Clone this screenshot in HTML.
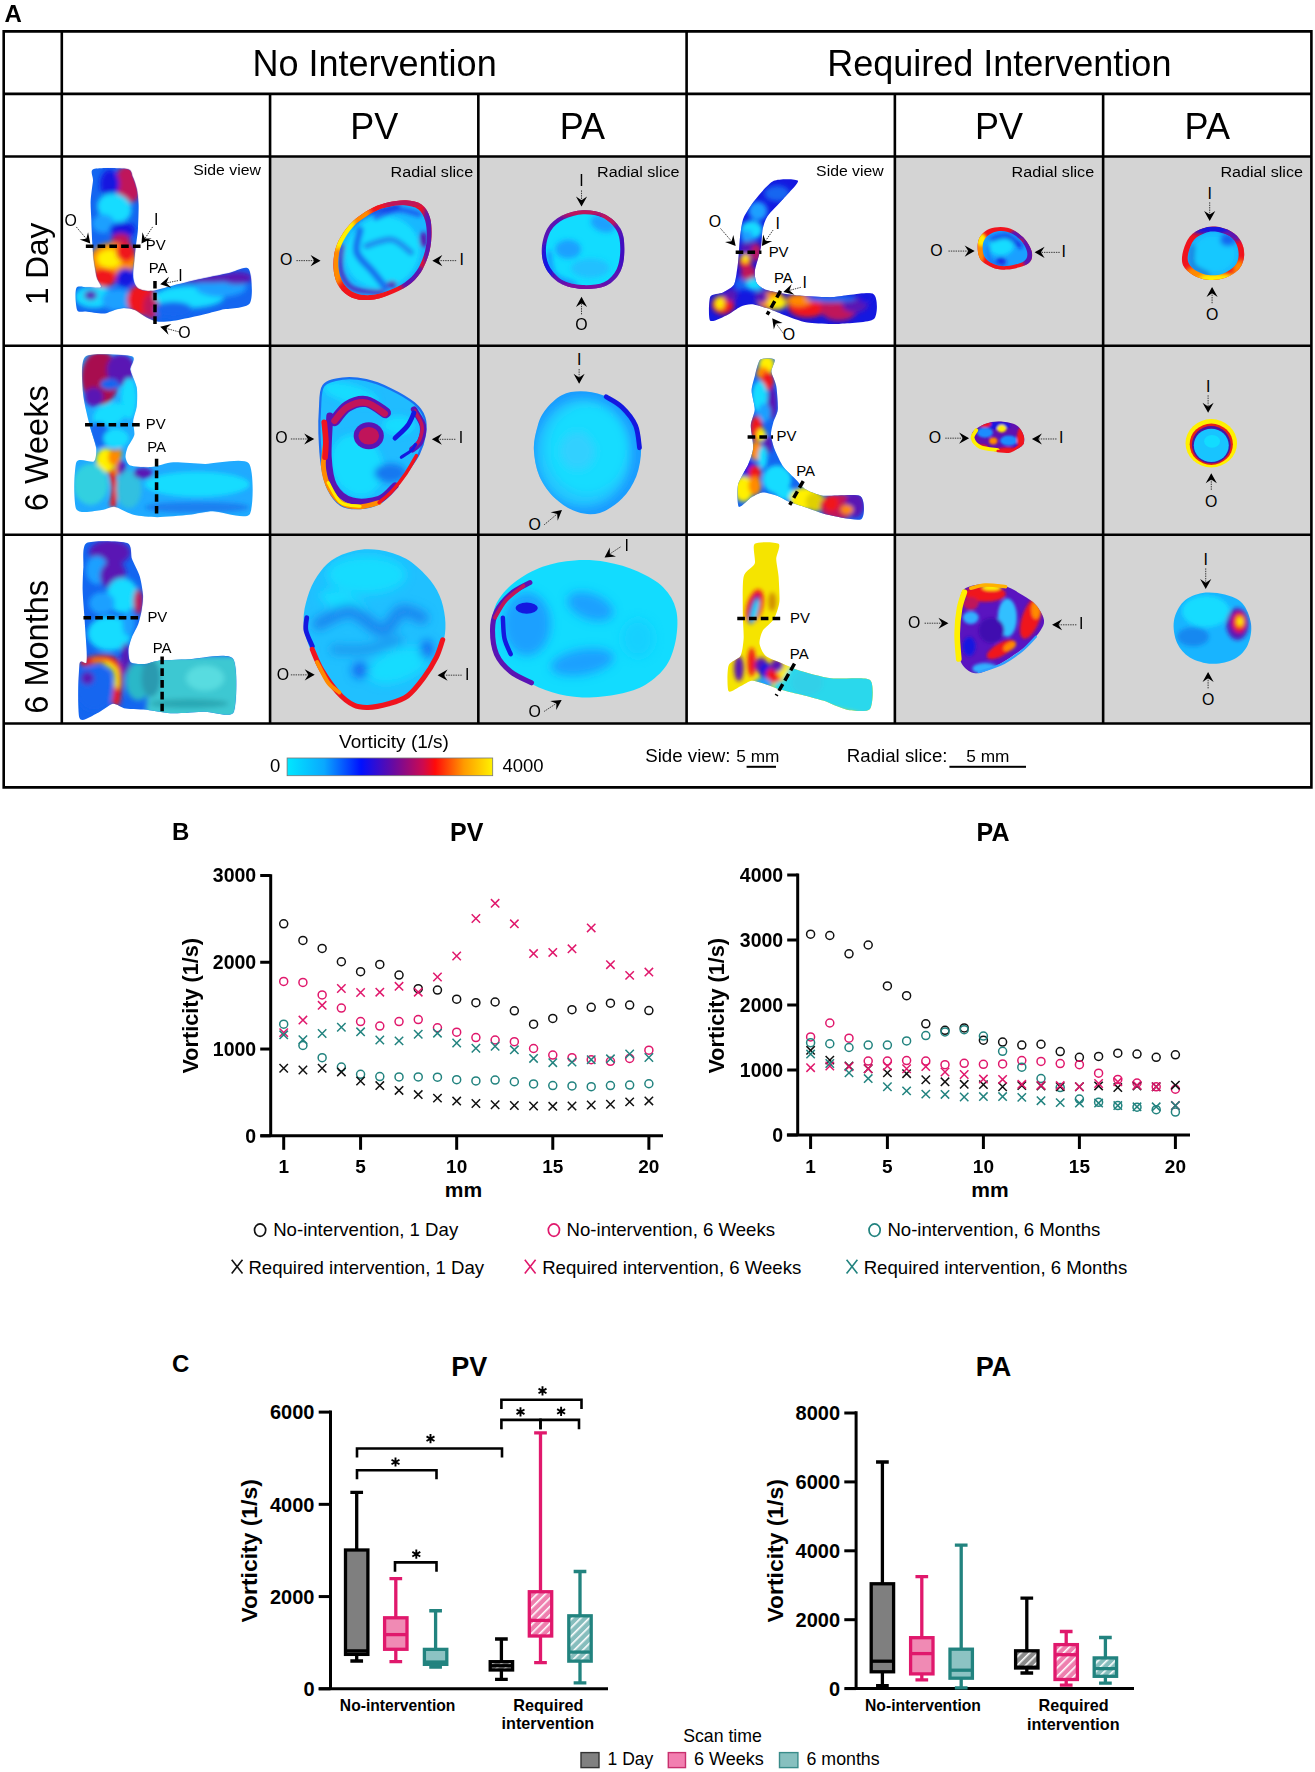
<!DOCTYPE html><html><head><meta charset="utf-8"><style>html,body{margin:0;padding:0;background:#fff;width:1315px;height:1772px;overflow:hidden}svg{display:block}text{font-family:"Liberation Sans",sans-serif}</style></head><body>
<svg width="1315" height="1772" viewBox="0 0 1315 1772">
<defs>
<linearGradient id="cbar" x1="0" x2="1" y1="0" y2="0"><stop offset="0" stop-color="#00e8ff"/><stop offset="0.18" stop-color="#0aa8ff"/><stop offset="0.36" stop-color="#0010ff"/><stop offset="0.52" stop-color="#6a0aa0"/><stop offset="0.66" stop-color="#cc0a50"/><stop offset="0.72" stop-color="#ff0a0a"/><stop offset="0.86" stop-color="#ff9a00"/><stop offset="1" stop-color="#fff200"/></linearGradient>
<pattern id="hatchG" patternUnits="userSpaceOnUse" width="6" height="6" patternTransform="rotate(45)"><rect width="6" height="6" fill="#8a8a8a"/><rect x="0" y="0" width="1.6" height="6" fill="#fff"/></pattern>
<pattern id="hatchP" patternUnits="userSpaceOnUse" width="6" height="6" patternTransform="rotate(45)"><rect width="6" height="6" fill="#ee7fae"/><rect x="0" y="0" width="1.6" height="6" fill="#fff"/></pattern>
<pattern id="hatchT" patternUnits="userSpaceOnUse" width="6" height="6" patternTransform="rotate(45)"><rect width="6" height="6" fill="#86bdbd"/><rect x="0" y="0" width="1.6" height="6" fill="#fff"/></pattern>
<filter id="blur2" x="-20%" y="-20%" width="140%" height="140%"><feGaussianBlur stdDeviation="2"/></filter>
<filter id="blur1" x="-20%" y="-20%" width="140%" height="140%"><feGaussianBlur stdDeviation="1"/></filter>
<filter id="blur4" x="-30%" y="-30%" width="160%" height="160%"><feGaussianBlur stdDeviation="4"/></filter>
</defs>
<rect x="270.07" y="156.5" width="208.27" height="567.00" fill="#d4d4d4"/>
<rect x="478.33" y="156.5" width="208.27" height="567.00" fill="#d4d4d4"/>
<rect x="894.87" y="156.5" width="208.27" height="567.00" fill="#d4d4d4"/>
<rect x="1103.13" y="156.5" width="208.27" height="567.00" fill="#d4d4d4"/>
<g id="images"><g transform="translate(62,157) scale(0.15894)">
<clipPath id="cp1"><path d="M200,75C229,65 377,68 410,75C443,82 437,108 445,125C453,142 465,177 470,200C475,223 481,267 482,300C483,333 480,415 478,450C476,485 468,533 465,560C462,587 457,623 455,650C453,677 445,737 448,760C451,783 463,814 478,825C493,836 530,844 560,842C590,840 655,819 700,808C745,797 853,772 900,762C947,752 1013,738 1050,730C1087,722 1157,680 1175,705C1193,730 1205,886 1182,920C1159,954 1044,951 1000,962C956,973 890,991 850,1000C810,1009 734,1025 700,1030C666,1035 622,1039 598,1035C574,1031 538,1012 520,1002C502,992 477,969 460,962C443,955 407,950 390,950C373,950 347,957 330,962C313,967 284,984 260,985C236,986 172,975 150,972C128,969 103,982 95,962C87,942 81,844 90,825C99,806 139,821 160,820C181,819 237,828 245,820C253,812 226,783 220,760C214,737 204,681 200,650C196,619 192,563 190,530C188,497 186,433 185,400C184,367 179,313 180,280C181,247 192,177 195,150C198,123 171,85 200,75Z"/></clipPath>
<filter id="fb2" x="-50%" y="-50%" width="200%" height="200%"><feGaussianBlur stdDeviation="18"/></filter>
<path d="M200,75C229,65 377,68 410,75C443,82 437,108 445,125C453,142 465,177 470,200C475,223 481,267 482,300C483,333 480,415 478,450C476,485 468,533 465,560C462,587 457,623 455,650C453,677 445,737 448,760C451,783 463,814 478,825C493,836 530,844 560,842C590,840 655,819 700,808C745,797 853,772 900,762C947,752 1013,738 1050,730C1087,722 1157,680 1175,705C1193,730 1205,886 1182,920C1159,954 1044,951 1000,962C956,973 890,991 850,1000C810,1009 734,1025 700,1030C666,1035 622,1039 598,1035C574,1031 538,1012 520,1002C502,992 477,969 460,962C443,955 407,950 390,950C373,950 347,957 330,962C313,967 284,984 260,985C236,986 172,975 150,972C128,969 103,982 95,962C87,942 81,844 90,825C99,806 139,821 160,820C181,819 237,828 245,820C253,812 226,783 220,760C214,737 204,681 200,650C196,619 192,563 190,530C188,497 186,433 185,400C184,367 179,313 180,280C181,247 192,177 195,150C198,123 171,85 200,75Z" fill="#1466f0"/>
<g clip-path="url(#cp1)"><g filter="url(#fb2)">
<ellipse cx="420" cy="170" rx="90" ry="120" fill="#c0145a" transform="rotate(0 420 170)" opacity="1"/>
<ellipse cx="300" cy="170" rx="60" ry="90" fill="#1418e0" transform="rotate(0 300 170)" opacity="1"/>
<ellipse cx="330" cy="320" rx="110" ry="90" fill="#12dcff" transform="rotate(20 330 320)" opacity="1"/>
<ellipse cx="260" cy="420" rx="70" ry="60" fill="#1aa0ff" transform="rotate(0 260 420)" opacity="1"/>
<ellipse cx="380" cy="460" rx="80" ry="50" fill="#1418e0" transform="rotate(0 380 460)" opacity="1"/>
<ellipse cx="370" cy="520" rx="60" ry="40" fill="#c0145a" transform="rotate(0 370 520)" opacity="1"/>
<ellipse cx="320" cy="650" rx="150" ry="110" fill="#ff8a00" transform="rotate(0 320 650)" opacity="1"/>
<ellipse cx="300" cy="640" rx="80" ry="60" fill="#fff000" transform="rotate(0 300 640)" opacity="1"/>
<ellipse cx="400" cy="600" rx="60" ry="60" fill="#f0141e" transform="rotate(0 400 600)" opacity="1"/>
<ellipse cx="260" cy="760" rx="80" ry="60" fill="#f0141e" transform="rotate(0 260 760)" opacity="1"/>
<ellipse cx="400" cy="760" rx="60" ry="60" fill="#1418e0" transform="rotate(0 400 760)" opacity="1"/>
<ellipse cx="200" cy="880" rx="120" ry="70" fill="#12dcff" transform="rotate(0 200 880)" opacity="1"/>
<ellipse cx="350" cy="900" rx="100" ry="70" fill="#1aa0ff" transform="rotate(0 350 900)" opacity="1"/>
<ellipse cx="180" cy="870" rx="40" ry="30" fill="#5a14b4" transform="rotate(0 180 870)" opacity="1"/>
<ellipse cx="500" cy="900" rx="90" ry="100" fill="#f0141e" transform="rotate(0 500 900)" opacity="1"/>
<ellipse cx="560" cy="940" rx="50" ry="80" fill="#c0145a" transform="rotate(0 560 940)" opacity="1"/>
<ellipse cx="800" cy="880" rx="220" ry="70" fill="#12dcff" transform="rotate(0 800 880)" opacity="1"/>
<ellipse cx="1000" cy="820" rx="160" ry="60" fill="#1aa0ff" transform="rotate(0 1000 820)" opacity="1"/>
<ellipse cx="900" cy="760" rx="250" ry="30" fill="#5a14b4" transform="rotate(0 900 760)" opacity="1"/>
<ellipse cx="1100" cy="760" rx="100" ry="40" fill="#5a14b4" transform="rotate(0 1100 760)" opacity="1"/>
<ellipse cx="700" cy="960" rx="120" ry="50" fill="#1466f0" transform="rotate(0 700 960)" opacity="1"/>
</g></g>
<path d="M150,562L515,562" stroke="#000" stroke-width="22" stroke-dasharray="48 26" fill="none"/>
<path d="M585,780L585,1065" stroke="#000" stroke-width="22" stroke-dasharray="48 26" fill="none"/>
<text x="590" y="585" font-size="94" text-anchor="middle" fill="#000">PV</text>
<text x="605" y="728" font-size="94" text-anchor="middle" fill="#000">PA</text>
<text x="55" y="435" font-size="100" text-anchor="middle" fill="#000">O</text>
<text x="592" y="425" font-size="100" text-anchor="middle" fill="#000">I</text>
<path d="M90,440L172,537" stroke="#333" stroke-width="6" stroke-dasharray="9 6" fill="none"/>
<path d="M178,545L111,519L153,515L164,474Z" fill="#000"/>
<path d="M570,440L506,537" stroke="#333" stroke-width="6" stroke-dasharray="9 6" fill="none"/>
<path d="M500,545L506,473L522,512L564,512Z" fill="#000"/>
<text x="745" y="780" font-size="100" text-anchor="middle" fill="#000">I</text>
<path d="M730,778L628,798" stroke="#333" stroke-width="6" stroke-dasharray="9 6" fill="none"/>
<path d="M618,800L673,754L657,792L687,822Z" fill="#000"/>
<text x="770" y="1140" font-size="100" text-anchor="middle" fill="#000">O</text>
<path d="M735,1100L628,1071" stroke="#333" stroke-width="6" stroke-dasharray="9 6" fill="none"/>
<path d="M618,1068L688,1051L656,1078L670,1118Z" fill="#000"/>
</g>
<g transform="translate(271,157) scale(0.15894)">
<clipPath id="cp3"><path d="M850,272C885,274 925,282 950,300C975,318 990,347 1000,380C1010,413 1012,460 1010,500C1008,540 1002,582 990,620C978,658 962,698 940,730C918,762 893,787 860,810C827,833 780,855 740,870C700,885 658,898 620,900C582,902 542,898 510,885C478,872 449,848 430,820C411,792 400,757 395,720C390,683 392,637 400,600C408,563 420,533 440,500C460,467 487,430 520,400C553,370 603,339 640,320C677,301 705,293 740,285C775,277 815,270 850,272Z"/></clipPath>
<filter id="fb4" x="-50%" y="-50%" width="200%" height="200%"><feGaussianBlur stdDeviation="14"/></filter>
<path d="M850,272C885,274 925,282 950,300C975,318 990,347 1000,380C1010,413 1012,460 1010,500C1008,540 1002,582 990,620C978,658 962,698 940,730C918,762 893,787 860,810C827,833 780,855 740,870C700,885 658,898 620,900C582,902 542,898 510,885C478,872 449,848 430,820C411,792 400,757 395,720C390,683 392,637 400,600C408,563 420,533 440,500C460,467 487,430 520,400C553,370 603,339 640,320C677,301 705,293 740,285C775,277 815,270 850,272Z" fill="#f0141e"/>
<g clip-path="url(#cp3)"><g filter="url(#fb4)">
<ellipse cx="440" cy="470" rx="80" ry="140" fill="#fff000" transform="rotate(30 440 470)" opacity="1"/>
<ellipse cx="410" cy="690" rx="50" ry="120" fill="#ff8a00" transform="rotate(0 410 690)" opacity="1"/>
<ellipse cx="560" cy="870" rx="170" ry="50" fill="#f0141e" transform="rotate(0 560 870)" opacity="1"/>
<ellipse cx="820" cy="285" rx="150" ry="40" fill="#c0145a" transform="rotate(0 820 285)" opacity="1"/>
<ellipse cx="1000" cy="500" rx="50" ry="220" fill="#5a14b4" transform="rotate(0 1000 500)" opacity="1"/>
<ellipse cx="900" cy="770" rx="90" ry="90" fill="#5a14b4" transform="rotate(0 900 770)" opacity="1"/>
<ellipse cx="560" cy="360" rx="70" ry="60" fill="#ff8a00" transform="rotate(0 560 360)" opacity="1"/>
<ellipse cx="660" cy="310" rx="60" ry="40" fill="#f0141e" transform="rotate(0 660 310)" opacity="1"/>
</g></g>
<clipPath id="cp5"><path d="M836,304C868,306 904,313 926,329C948,345 961,371 970,401C979,431 981,473 980,509C979,545 973,582 962,617C951,652 936,688 916,716C896,744 874,767 844,788C814,809 772,828 736,842C700,856 662,867 628,869C594,871 558,868 530,856C502,844 475,822 458,797C441,772 431,740 426,707C421,674 423,632 430,599C437,566 448,539 466,509C484,479 508,446 538,419C568,392 613,364 646,347C679,330 704,323 736,316C768,309 804,302 836,304Z"/></clipPath>
<filter id="fb6" x="-50%" y="-50%" width="200%" height="200%"><feGaussianBlur stdDeviation="14"/></filter>
<path d="M836,304C868,306 904,313 926,329C948,345 961,371 970,401C979,431 981,473 980,509C979,545 973,582 962,617C951,652 936,688 916,716C896,744 874,767 844,788C814,809 772,828 736,842C700,856 662,867 628,869C594,871 558,868 530,856C502,844 475,822 458,797C441,772 431,740 426,707C421,674 423,632 430,599C437,566 448,539 466,509C484,479 508,446 538,419C568,392 613,364 646,347C679,330 704,323 736,316C768,309 804,302 836,304Z" fill="#18b8ff"/>
<g clip-path="url(#cp5)"><g filter="url(#fb6)">
<ellipse cx="700" cy="600" rx="240" ry="220" fill="#12dcff" transform="rotate(-30 700 600)" opacity="1"/>
<path d="M560,460C557,483 527,557 540,600C553,643 610,683 640,720C670,757 707,803 720,820" stroke="#1470f0" stroke-width="45" fill="none" stroke-linecap="round" opacity="1"/>
<path d="M660,380C683,372 755,333 800,330C845,327 908,355 930,360" stroke="#1a60f0" stroke-width="35" fill="none" stroke-linecap="round" opacity="1"/>
<path d="M600,560C627,553 713,513 760,520C807,527 860,587 880,600" stroke="#1a90f0" stroke-width="40" fill="none" stroke-linecap="round" opacity="1"/>
<ellipse cx="960" cy="520" rx="25" ry="50" fill="#5a14b4" transform="rotate(0 960 520)" opacity="1"/>
<ellipse cx="760" cy="800" rx="30" ry="20" fill="#5a14b4" transform="rotate(0 760 800)" opacity="1"/>
<path d="M450,560C448,587 428,675 440,720C452,765 477,808 520,830C563,852 670,847 700,850" stroke="#5a14b4" stroke-width="26" fill="none" stroke-linecap="round" opacity="1"/>
<path d="M500,430C520,417 570,370 620,350C670,330 770,317 800,310" stroke="#1418e0" stroke-width="22" fill="none" stroke-linecap="round" opacity="1"/>
</g></g>
<text x="95" y="680" font-size="100" text-anchor="middle" fill="#000">O</text>
<path d="M160,652L302,652" stroke="#333" stroke-width="6" stroke-dasharray="9 6" fill="none"/>
<path d="M312,652L249,687L272,652L249,617Z" fill="#000"/>
<text x="1200" y="680" font-size="100" text-anchor="middle" fill="#000">I</text>
<path d="M1165,652L1025,652" stroke="#333" stroke-width="6" stroke-dasharray="9 6" fill="none"/>
<path d="M1015,652L1078,617L1055,652L1078,687Z" fill="#000"/>
</g>
<g transform="translate(479,157) scale(0.15894)">
<clipPath id="cp7"><path d="M655,335C700,333 751,341 790,360C829,379 869,413 890,450C911,487 915,535 915,580C915,625 909,682 890,720C871,758 840,792 800,810C760,828 698,832 650,830C602,828 548,817 510,795C472,773 439,736 420,700C401,664 393,622 395,580C397,538 409,485 430,450C451,415 482,389 520,370C558,351 610,337 655,335Z"/></clipPath>
<filter id="fb8" x="-50%" y="-50%" width="200%" height="200%"><feGaussianBlur stdDeviation="14"/></filter>
<path d="M655,335C700,333 751,341 790,360C829,379 869,413 890,450C911,487 915,535 915,580C915,625 909,682 890,720C871,758 840,792 800,810C760,828 698,832 650,830C602,828 548,817 510,795C472,773 439,736 420,700C401,664 393,622 395,580C397,538 409,485 430,450C451,415 482,389 520,370C558,351 610,337 655,335Z" fill="#5a14b4"/>
<g clip-path="url(#cp7)"><g filter="url(#fb8)">
<ellipse cx="620" cy="340" rx="170" ry="40" fill="#c0145a" transform="rotate(0 620 340)" opacity="1"/>
<ellipse cx="820" cy="390" rx="60" ry="50" fill="#c0145a" transform="rotate(0 820 390)" opacity="1"/>
<ellipse cx="430" cy="660" rx="40" ry="120" fill="#1418e0" transform="rotate(0 430 660)" opacity="1"/>
<ellipse cx="650" cy="830" rx="170" ry="40" fill="#8010a0" transform="rotate(0 650 830)" opacity="1"/>
<ellipse cx="900" cy="600" rx="30" ry="120" fill="#4010c0" transform="rotate(0 900 600)" opacity="1"/>
</g></g>
<clipPath id="cp9"><path d="M655,360C695,358 741,365 776,382C811,399 847,431 866,464C885,497 889,540 889,580C889,620 883,671 866,706C849,741 822,771 786,788C750,805 694,808 650,806C606,804 558,794 524,774C490,754 461,720 444,688C427,656 420,617 421,580C422,543 433,495 452,464C471,433 500,409 534,392C568,375 615,362 655,360Z"/></clipPath>
<filter id="fb10" x="-50%" y="-50%" width="200%" height="200%"><feGaussianBlur stdDeviation="18"/></filter>
<path d="M655,360C695,358 741,365 776,382C811,399 847,431 866,464C885,497 889,540 889,580C889,620 883,671 866,706C849,741 822,771 786,788C750,805 694,808 650,806C606,804 558,794 524,774C490,754 461,720 444,688C427,656 420,617 421,580C422,543 433,495 452,464C471,433 500,409 534,392C568,375 615,362 655,360Z" fill="#12dcff"/>
<g clip-path="url(#cp9)"><g filter="url(#fb10)">
<ellipse cx="560" cy="580" rx="80" ry="60" fill="#1aa0ff" transform="rotate(0 560 580)" opacity="1"/>
<ellipse cx="780" cy="420" rx="80" ry="50" fill="#1aa0ff" transform="rotate(20 780 420)" opacity="1"/>
<ellipse cx="700" cy="700" rx="120" ry="60" fill="#22c0ff" transform="rotate(0 700 700)" opacity="1"/>
<path d="M440,600C445,623 443,707 470,740C497,773 578,790 600,800" stroke="#1a70ff" stroke-width="20" fill="none" stroke-linecap="round" opacity="1"/>
</g></g>
<text x="645" y="180" font-size="100" text-anchor="middle" fill="#000">I</text>
<path d="M645,210L645,302" stroke="#333" stroke-width="6" stroke-dasharray="9 6" fill="none"/>
<path d="M645,312L610,249L645,272L680,249Z" fill="#000"/>
<text x="645" y="1090" font-size="100" text-anchor="middle" fill="#000">O</text>
<path d="M645,990L645,890" stroke="#333" stroke-width="6" stroke-dasharray="9 6" fill="none"/>
<path d="M645,880L680,943L645,920L610,943Z" fill="#000"/>
</g>
<g transform="translate(688,157) scale(0.15894)">
<clipPath id="cp11"><path d="M540,150C572,136 685,137 692,150C699,163 622,236 600,262C578,288 515,350 500,372C485,394 475,430 470,452C465,474 464,540 460,562C456,584 445,623 440,642C435,661 421,704 420,722C419,740 425,779 432,792C439,805 467,825 482,832C497,839 537,847 562,852C587,857 661,868 700,872C739,876 846,883 900,882C954,881 1134,846 1165,862C1196,878 1195,998 1170,1020C1145,1042 999,1047 950,1050C901,1053 791,1049 750,1042C709,1035 629,1002 600,992C571,982 523,960 500,952C477,944 420,928 400,927C380,926 348,934 330,942C312,950 272,982 250,992C228,1002 153,1043 140,1030C127,1017 131,901 140,880C149,859 202,861 220,852C238,843 280,820 290,802C300,784 306,725 310,702C314,679 318,628 320,602C322,576 326,508 330,482C334,456 340,406 350,382C360,358 398,299 420,272C442,245 508,164 540,150Z"/></clipPath>
<filter id="fb12" x="-50%" y="-50%" width="200%" height="200%"><feGaussianBlur stdDeviation="16"/></filter>
<path d="M540,150C572,136 685,137 692,150C699,163 622,236 600,262C578,288 515,350 500,372C485,394 475,430 470,452C465,474 464,540 460,562C456,584 445,623 440,642C435,661 421,704 420,722C419,740 425,779 432,792C439,805 467,825 482,832C497,839 537,847 562,852C587,857 661,868 700,872C739,876 846,883 900,882C954,881 1134,846 1165,862C1196,878 1195,998 1170,1020C1145,1042 999,1047 950,1050C901,1053 791,1049 750,1042C709,1035 629,1002 600,992C571,982 523,960 500,952C477,944 420,928 400,927C380,926 348,934 330,942C312,950 272,982 250,992C228,1002 153,1043 140,1030C127,1017 131,901 140,880C149,859 202,861 220,852C238,843 280,820 290,802C300,784 306,725 310,702C314,679 318,628 320,602C322,576 326,508 330,482C334,456 340,406 350,382C360,358 398,299 420,272C442,245 508,164 540,150Z" fill="#1418e0"/>
<g clip-path="url(#cp11)"><g filter="url(#fb12)">
<ellipse cx="560" cy="230" rx="80" ry="50" fill="#1466f0" transform="rotate(0 560 230)" opacity="1"/>
<ellipse cx="440" cy="340" rx="60" ry="60" fill="#1aa0ff" transform="rotate(0 440 340)" opacity="1"/>
<ellipse cx="400" cy="460" rx="70" ry="60" fill="#12dcff" transform="rotate(0 400 460)" opacity="1"/>
<ellipse cx="370" cy="500" rx="40" ry="40" fill="#1aa0ff" transform="rotate(0 370 500)" opacity="1"/>
<ellipse cx="380" cy="580" rx="50" ry="50" fill="#5a14b4" transform="rotate(0 380 580)" opacity="1"/>
<ellipse cx="430" cy="600" rx="30" ry="60" fill="#c0145a" transform="rotate(0 430 600)" opacity="1"/>
<ellipse cx="360" cy="660" rx="40" ry="50" fill="#f0141e" transform="rotate(0 360 660)" opacity="1"/>
<ellipse cx="360" cy="640" rx="25" ry="25" fill="#fff000" transform="rotate(0 360 640)" opacity="1"/>
<ellipse cx="380" cy="730" rx="50" ry="50" fill="#c0145a" transform="rotate(0 380 730)" opacity="1"/>
<ellipse cx="420" cy="800" rx="60" ry="40" fill="#12dcff" transform="rotate(0 420 800)" opacity="1"/>
<ellipse cx="330" cy="800" rx="40" ry="40" fill="#1466f0" transform="rotate(0 330 800)" opacity="1"/>
<ellipse cx="220" cy="930" rx="70" ry="60" fill="#f0141e" transform="rotate(0 220 930)" opacity="1"/>
<ellipse cx="200" cy="920" rx="30" ry="40" fill="#fff000" transform="rotate(0 200 920)" opacity="1"/>
<ellipse cx="270" cy="870" rx="40" ry="40" fill="#5a14b4" transform="rotate(0 270 870)" opacity="1"/>
<ellipse cx="520" cy="900" rx="90" ry="60" fill="#ff8a00" transform="rotate(0 520 900)" opacity="1"/>
<ellipse cx="560" cy="920" rx="60" ry="40" fill="#fff000" transform="rotate(0 560 920)" opacity="1"/>
<ellipse cx="460" cy="880" rx="40" ry="40" fill="#5a14b4" transform="rotate(0 460 880)" opacity="1"/>
<ellipse cx="750" cy="940" rx="120" ry="70" fill="#f0141e" transform="rotate(0 750 940)" opacity="1"/>
<ellipse cx="700" cy="900" rx="80" ry="40" fill="#ff8a00" transform="rotate(0 700 900)" opacity="1"/>
<ellipse cx="950" cy="950" rx="120" ry="80" fill="#c0145a" transform="rotate(0 950 950)" opacity="1"/>
<ellipse cx="1050" cy="930" rx="80" ry="50" fill="#5a14b4" transform="rotate(0 1050 930)" opacity="1"/>
<ellipse cx="900" cy="890" rx="160" ry="25" fill="#1466f0" transform="rotate(0 900 890)" opacity="1"/>
<ellipse cx="1120" cy="880" rx="50" ry="40" fill="#1418e0" transform="rotate(0 1120 880)" opacity="1"/>
</g></g>
<path d="M300,600L462,600" stroke="#000" stroke-width="22" stroke-dasharray="48 26" fill="none"/>
<text x="570" y="630" font-size="94" text-anchor="middle" fill="#000">PV</text>
<text x="600" y="790" font-size="94" text-anchor="middle" fill="#000">PA</text>
<text x="170" y="440" font-size="100" text-anchor="middle" fill="#000">O</text>
<path d="M205,450L293,552" stroke="#333" stroke-width="6" stroke-dasharray="9 6" fill="none"/>
<path d="M300,560L233,535L274,530L285,490Z" fill="#000"/>
<text x="565" y="450" font-size="100" text-anchor="middle" fill="#000">I</text>
<path d="M535,460L471,552" stroke="#333" stroke-width="6" stroke-dasharray="9 6" fill="none"/>
<path d="M465,560L473,488L488,528L530,528Z" fill="#000"/>
<text x="735" y="825" font-size="100" text-anchor="middle" fill="#000">I</text>
<path d="M710,820L610,847" stroke="#333" stroke-width="6" stroke-dasharray="9 6" fill="none"/>
<path d="M600,850L652,800L638,840L670,867Z" fill="#000"/>
<path d="M582,842L498,992" stroke="#000" stroke-width="22" stroke-dasharray="48 26" fill="none"/>
<text x="635" y="1150" font-size="100" text-anchor="middle" fill="#000">O</text>
<path d="M600,1110L536,1023" stroke="#333" stroke-width="6" stroke-dasharray="9 6" fill="none"/>
<path d="M530,1015L595,1045L553,1047L540,1086Z" fill="#000"/>
</g>
<g transform="translate(896,157) scale(0.15894)">
<clipPath id="cp13"><path d="M520,520C531,490 560,464 590,452C620,440 665,436 700,445C735,454 774,479 800,505C826,531 850,572 855,600C860,628 856,654 830,672C804,690 738,705 700,708C662,711 629,705 600,692C571,679 538,661 525,632C512,603 509,550 520,520Z"/></clipPath>
<filter id="fb14" x="-50%" y="-50%" width="200%" height="200%"><feGaussianBlur stdDeviation="10"/></filter>
<path d="M520,520C531,490 560,464 590,452C620,440 665,436 700,445C735,454 774,479 800,505C826,531 850,572 855,600C860,628 856,654 830,672C804,690 738,705 700,708C662,711 629,705 600,692C571,679 538,661 525,632C512,603 509,550 520,520Z" fill="#f0141e"/>
<g clip-path="url(#cp13)"><g filter="url(#fb14)">
<ellipse cx="520" cy="590" rx="40" ry="90" fill="#ff8a00" transform="rotate(0 520 590)" opacity="1"/>
<ellipse cx="540" cy="520" rx="30" ry="40" fill="#fff000" transform="rotate(0 540 520)" opacity="1"/>
<ellipse cx="830" cy="590" rx="40" ry="110" fill="#5a14b4" transform="rotate(0 830 590)" opacity="1"/>
<ellipse cx="770" cy="490" rx="60" ry="30" fill="#5a14b4" transform="rotate(0 770 490)" opacity="1"/>
<ellipse cx="640" cy="700" rx="50" ry="20" fill="#f0141e" transform="rotate(0 640 700)" opacity="1"/>
</g></g>
<clipPath id="cp15"><path d="M551,532C560,507 584,486 608,476C632,466 669,463 698,470C727,477 759,498 780,519C801,540 821,574 825,597C829,620 826,641 805,656C784,671 730,683 698,686C666,689 640,683 616,673C592,663 566,648 555,624C544,600 542,557 551,532Z"/></clipPath>
<filter id="fb16" x="-50%" y="-50%" width="200%" height="200%"><feGaussianBlur stdDeviation="12"/></filter>
<path d="M551,532C560,507 584,486 608,476C632,466 669,463 698,470C727,477 759,498 780,519C801,540 821,574 825,597C829,620 826,641 805,656C784,671 730,683 698,686C666,689 640,683 616,673C592,663 566,648 555,624C544,600 542,557 551,532Z" fill="#1aa0ff"/>
<g clip-path="url(#cp15)"><g filter="url(#fb16)">
<ellipse cx="660" cy="560" rx="80" ry="60" fill="#12dcff" transform="rotate(0 660 560)" opacity="1"/>
<path d="M600,520C617,517 670,493 700,500C730,507 767,550 780,560" stroke="#1418e0" stroke-width="25" fill="none" stroke-linecap="round" opacity="1"/>
<ellipse cx="660" cy="660" rx="30" ry="30" fill="#1418e0" transform="rotate(0 660 660)" opacity="1"/>
<path d="M580,560C582,575 577,630 590,650C603,670 648,675 660,680" stroke="#1466f0" stroke-width="20" fill="none" stroke-linecap="round" opacity="1"/>
</g></g>
<text x="255" y="620" font-size="100" text-anchor="middle" fill="#000">O</text>
<path d="M330,592L485,592" stroke="#333" stroke-width="6" stroke-dasharray="9 6" fill="none"/>
<path d="M495,592L432,627L455,592L432,557Z" fill="#000"/>
<text x="1055" y="630" font-size="100" text-anchor="middle" fill="#000">I</text>
<path d="M1030,600L882,600" stroke="#333" stroke-width="6" stroke-dasharray="9 6" fill="none"/>
<path d="M872,600L935,565L912,600L935,635Z" fill="#000"/>
</g>
<g transform="translate(1104,157) scale(0.15894)">
<clipPath id="cp17"><path d="M540,500C561,475 593,460 620,450C647,440 670,435 700,438C730,441 773,453 800,468C827,483 848,505 862,530C876,555 884,591 882,620C880,649 872,678 852,702C832,726 794,750 760,762C726,774 683,775 650,772C617,769 585,757 560,742C535,727 509,706 498,682C487,658 489,630 496,600C503,570 519,525 540,500Z"/></clipPath>
<filter id="fb18" x="-50%" y="-50%" width="200%" height="200%"><feGaussianBlur stdDeviation="12"/></filter>
<path d="M540,500C561,475 593,460 620,450C647,440 670,435 700,438C730,441 773,453 800,468C827,483 848,505 862,530C876,555 884,591 882,620C880,649 872,678 852,702C832,726 794,750 760,762C726,774 683,775 650,772C617,769 585,757 560,742C535,727 509,706 498,682C487,658 489,630 496,600C503,570 519,525 540,500Z" fill="#f0141e"/>
<g clip-path="url(#cp17)"><g filter="url(#fb18)">
<ellipse cx="690" cy="440" rx="170" ry="50" fill="#1418e0" transform="rotate(0 690 440)" opacity="1"/>
<ellipse cx="830" cy="480" rx="60" ry="50" fill="#5a14b4" transform="rotate(0 830 480)" opacity="1"/>
<ellipse cx="690" cy="770" rx="180" ry="40" fill="#fff000" transform="rotate(0 690 770)" opacity="1"/>
<ellipse cx="570" cy="730" rx="60" ry="40" fill="#ff8a00" transform="rotate(0 570 730)" opacity="1"/>
<ellipse cx="850" cy="700" rx="40" ry="50" fill="#ff8a00" transform="rotate(0 850 700)" opacity="1"/>
<ellipse cx="880" cy="600" rx="20" ry="60" fill="#f0141e" transform="rotate(0 880 600)" opacity="1"/>
</g></g>
<clipPath id="cp19"><path d="M567,520C584,500 611,488 633,479C655,470 674,466 698,469C722,472 758,482 780,494C802,506 820,523 831,544C842,565 848,594 847,618C846,642 840,666 823,685C806,704 775,725 747,735C719,745 684,746 657,743C630,740 604,730 583,718C562,706 542,688 533,669C524,650 525,627 531,602C537,577 550,540 567,520Z"/></clipPath>
<filter id="fb20" x="-50%" y="-50%" width="200%" height="200%"><feGaussianBlur stdDeviation="16"/></filter>
<path d="M567,520C584,500 611,488 633,479C655,470 674,466 698,469C722,472 758,482 780,494C802,506 820,523 831,544C842,565 848,594 847,618C846,642 840,666 823,685C806,704 775,725 747,735C719,745 684,746 657,743C630,740 604,730 583,718C562,706 542,688 533,669C524,650 525,627 531,602C537,577 550,540 567,520Z" fill="#18b4ff"/>
<g clip-path="url(#cp19)"><g filter="url(#fb20)">
<ellipse cx="690" cy="610" rx="140" ry="120" fill="#18c8ff" transform="rotate(0 690 610)" opacity="1"/>
<ellipse cx="780" cy="520" rx="50" ry="40" fill="#1466f0" transform="rotate(0 780 520)" opacity="1"/>
<path d="M560,560C560,580 543,650 560,680C577,710 643,730 660,740" stroke="#2020c0" stroke-width="18" fill="none" stroke-linecap="round" opacity="1"/>
</g></g>
<text x="665" y="265" font-size="100" text-anchor="middle" fill="#000">I</text>
<path d="M665,285L665,392" stroke="#333" stroke-width="6" stroke-dasharray="9 6" fill="none"/>
<path d="M665,402L630,339L665,362L700,339Z" fill="#000"/>
<text x="680" y="1025" font-size="100" text-anchor="middle" fill="#000">O</text>
<path d="M680,920L680,828" stroke="#333" stroke-width="6" stroke-dasharray="9 6" fill="none"/>
<path d="M680,818L715,881L680,858L645,881Z" fill="#000"/>
</g>
<g transform="translate(62,346) scale(0.15894)">
<clipPath id="cp21"><path d="M150,65C186,42 407,55 440,65C473,75 426,127 430,150C434,173 465,233 470,260C475,287 473,356 470,380C467,404 450,449 448,470C446,491 459,540 455,560C451,580 418,624 412,640C406,656 398,687 400,700C402,713 411,745 430,752C449,759 528,764 560,762C592,760 660,734 700,732C740,730 845,741 900,742C955,743 1142,701 1175,738C1208,775 1206,1025 1180,1060C1154,1095 994,1040 950,1040C906,1040 841,1058 800,1062C759,1066 641,1077 600,1077C559,1077 482,1070 450,1062C418,1054 353,1016 330,1012C307,1008 278,1030 250,1032C222,1034 109,1062 90,1027C71,992 77,767 90,732C103,697 185,738 200,727C215,716 217,664 215,640C213,616 188,548 180,520C172,492 156,430 150,400C144,370 130,301 130,262C130,223 114,88 150,65Z"/></clipPath>
<filter id="fb22" x="-50%" y="-50%" width="200%" height="200%"><feGaussianBlur stdDeviation="14"/></filter>
<path d="M150,65C186,42 407,55 440,65C473,75 426,127 430,150C434,173 465,233 470,260C475,287 473,356 470,380C467,404 450,449 448,470C446,491 459,540 455,560C451,580 418,624 412,640C406,656 398,687 400,700C402,713 411,745 430,752C449,759 528,764 560,762C592,760 660,734 700,732C740,730 845,741 900,742C955,743 1142,701 1175,738C1208,775 1206,1025 1180,1060C1154,1095 994,1040 950,1040C906,1040 841,1058 800,1062C759,1066 641,1077 600,1077C559,1077 482,1070 450,1062C418,1054 353,1016 330,1012C307,1008 278,1030 250,1032C222,1034 109,1062 90,1027C71,992 77,767 90,732C103,697 185,738 200,727C215,716 217,664 215,640C213,616 188,548 180,520C172,492 156,430 150,400C144,370 130,301 130,262C130,223 114,88 150,65Z" fill="#20aaff"/>
<g clip-path="url(#cp21)"><g filter="url(#fb22)">
<ellipse cx="240" cy="200" rx="120" ry="170" fill="#a81050" transform="rotate(0 240 200)" opacity="1"/>
<ellipse cx="370" cy="150" rx="90" ry="100" fill="#5a14b4" transform="rotate(0 370 150)" opacity="1"/>
<ellipse cx="300" cy="240" rx="60" ry="35" fill="#1466f0" transform="rotate(0 300 240)" opacity="1"/>
<ellipse cx="200" cy="320" rx="60" ry="60" fill="#5a14b4" transform="rotate(0 200 320)" opacity="1"/>
<ellipse cx="420" cy="330" rx="50" ry="130" fill="#12dcff" transform="rotate(0 420 330)" opacity="1"/>
<ellipse cx="300" cy="430" rx="110" ry="70" fill="#12dcff" transform="rotate(-20 300 430)" opacity="1"/>
<ellipse cx="230" cy="560" rx="70" ry="80" fill="#1466f0" transform="rotate(0 230 560)" opacity="1"/>
<ellipse cx="340" cy="580" rx="80" ry="60" fill="#12dcff" transform="rotate(0 340 580)" opacity="1"/>
<path d="M240,690C250,703 285,738 300,770C315,802 327,842 330,880C333,918 322,980 320,1000" stroke="#f0141e" stroke-width="36" fill="none" stroke-linecap="round" opacity="1"/>
<ellipse cx="275" cy="720" rx="60" ry="75" fill="#fff000" transform="rotate(0 275 720)" opacity="1"/>
<ellipse cx="320" cy="700" rx="30" ry="50" fill="#ff8a00" transform="rotate(0 320 700)" opacity="1"/>
<path d="M360,660C357,683 343,777 340,800" stroke="#ff8a00" stroke-width="30" fill="none" stroke-linecap="round" opacity="1"/>
<ellipse cx="375" cy="770" rx="25" ry="50" fill="#5a14b4" transform="rotate(0 375 770)" opacity="1"/>
<ellipse cx="180" cy="870" rx="110" ry="130" fill="#30d0e0" transform="rotate(0 180 870)" opacity="1"/>
<ellipse cx="420" cy="900" rx="80" ry="120" fill="#30c0e0" transform="rotate(0 420 900)" opacity="1"/>
<ellipse cx="510" cy="800" rx="60" ry="35" fill="#5a14b4" transform="rotate(0 510 800)" opacity="1"/>
<ellipse cx="850" cy="870" rx="330" ry="80" fill="#12dcff" transform="rotate(0 850 870)" opacity="1"/>
<ellipse cx="850" cy="1015" rx="330" ry="35" fill="#1a80f0" transform="rotate(0 850 1015)" opacity="1"/>
</g></g>
<path d="M145,495L505,495" stroke="#000" stroke-width="22" stroke-dasharray="48 26" fill="none"/>
<text x="590" y="522" font-size="94" text-anchor="middle" fill="#000">PV</text>
<text x="595" y="670" font-size="94" text-anchor="middle" fill="#000">PA</text>
<path d="M595,710L595,1075" stroke="#000" stroke-width="22" stroke-dasharray="48 26" fill="none"/>
</g>
<g transform="translate(271,346) scale(0.15894)">
<clipPath id="cp23"><path d="M330,250C354,218 405,211 450,205C495,199 550,204 600,215C650,226 700,246 750,270C800,294 864,330 900,360C936,390 954,417 965,450C976,483 974,522 968,560C962,598 950,640 930,680C910,720 878,760 850,800C822,840 788,888 760,920C732,952 713,973 680,990C647,1007 600,1018 560,1020C520,1022 473,1020 440,1000C407,980 380,942 360,900C340,858 329,808 320,750C311,692 307,608 305,550C303,492 304,450 308,400C312,350 306,282 330,250Z"/></clipPath>
<filter id="fb24" x="-50%" y="-50%" width="200%" height="200%"><feGaussianBlur stdDeviation="20"/></filter>
<path d="M330,250C354,218 405,211 450,205C495,199 550,204 600,215C650,226 700,246 750,270C800,294 864,330 900,360C936,390 954,417 965,450C976,483 974,522 968,560C962,598 950,640 930,680C910,720 878,760 850,800C822,840 788,888 760,920C732,952 713,973 680,990C647,1007 600,1018 560,1020C520,1022 473,1020 440,1000C407,980 380,942 360,900C340,858 329,808 320,750C311,692 307,608 305,550C303,492 304,450 308,400C312,350 306,282 330,250Z" fill="#20bcff"/>
<g clip-path="url(#cp23)"><g filter="url(#fb24)">
<ellipse cx="500" cy="300" rx="180" ry="60" fill="#12dcff" transform="rotate(15 500 300)" opacity="1"/>
<ellipse cx="540" cy="750" rx="160" ry="200" fill="#12dcff" transform="rotate(-20 540 750)" opacity="1"/>
<ellipse cx="800" cy="500" rx="100" ry="60" fill="#12dcff" transform="rotate(0 800 500)" opacity="1"/>
<ellipse cx="750" cy="800" rx="100" ry="60" fill="#1478f0" transform="rotate(0 750 800)" opacity="1"/>
</g></g>
<path d="M330,250C354,218 405,211 450,205C495,199 550,204 600,215C650,226 700,246 750,270C800,294 864,330 900,360C936,390 954,417 965,450C976,483 974,522 968,560C962,598 950,640 930,680C910,720 878,760 850,800C822,840 788,888 760,920C732,952 713,973 680,990C647,1007 600,1018 560,1020C520,1022 473,1020 440,1000C407,980 380,942 360,900C340,858 329,808 320,750C311,692 307,608 305,550C303,492 304,450 308,400C312,350 306,282 330,250Z" fill="none" stroke="#1a70f0" stroke-width="14"/>
<path d="M370,440C368,483 356,627 360,700C364,773 370,834 395,880C420,926 462,961 510,975C558,989 635,981 680,965C725,949 763,894 780,880" stroke="#5a14b4" stroke-width="44" fill="none" stroke-linecap="round"/>
<path d="M345,600C342,627 326,710 330,760C334,810 350,862 370,900C390,938 418,971 450,990C482,1009 522,1013 560,1012C598,1011 660,990 680,985" stroke="#ff8a00" stroke-width="30" fill="none" stroke-linecap="round"/>
<path d="M360,860C373,881 407,960 440,985C473,1010 540,1004 560,1008" stroke="#fff000" stroke-width="20" fill="none" stroke-linecap="round"/>
<path d="M335,480C337,500 344,563 345,600C346,637 341,683 340,700" stroke="#f0141e" stroke-width="36" fill="none" stroke-linecap="round"/>
<path d="M680,985C693,973 732,946 760,915C788,884 824,838 850,800C876,762 904,708 915,690" stroke="#f0141e" stroke-width="22" fill="none" stroke-linecap="round"/>
<path d="M400,470C413,455 447,400 480,380C513,360 560,343 600,350C640,357 700,408 720,420" stroke="#5a14b4" stroke-width="70" fill="none" stroke-linecap="round"/>
<path d="M400,470C413,456 447,404 480,385C513,366 561,350 600,357C639,364 696,414 715,425" stroke="#c0145a" stroke-width="42" fill="none" stroke-linecap="round"/>
<ellipse cx="615" cy="565" rx="95" ry="85" fill="#5a14b4" transform="rotate(0 615 565)" opacity="1"/>
<ellipse cx="615" cy="565" rx="65" ry="55" fill="#c0145a" transform="rotate(0 615 565)" opacity="1"/>
<path d="M900,400C909,417 948,467 955,500C962,533 951,575 940,600C929,625 898,642 890,650" stroke="#5a14b4" stroke-width="40" fill="none" stroke-linecap="round"/>
<path d="M905,410C912,425 945,470 950,500C955,530 944,567 935,590C926,613 902,632 895,640" stroke="#c0145a" stroke-width="22" fill="none" stroke-linecap="round"/>
<path d="M780,580C793,567 840,527 860,500C880,473 893,433 900,420" stroke="#1418e0" stroke-width="30" fill="none" stroke-linecap="round"/>
<path d="M820,700C830,693 865,673 880,660C895,647 905,627 910,620" stroke="#1418e0" stroke-width="20" fill="none" stroke-linecap="round"/>
<text x="65" y="610" font-size="100" text-anchor="middle" fill="#000">O</text>
<path d="M125,585L262,585" stroke="#333" stroke-width="6" stroke-dasharray="9 6" fill="none"/>
<path d="M272,585L209,620L232,585L209,550Z" fill="#000"/>
<text x="1195" y="610" font-size="100" text-anchor="middle" fill="#000">I</text>
<path d="M1160,587L1022,587" stroke="#333" stroke-width="6" stroke-dasharray="9 6" fill="none"/>
<path d="M1012,587L1075,552L1052,587L1075,622Z" fill="#000"/>
</g>
<g transform="translate(479,346) scale(0.15894)">
<clipPath id="cp25"><path d="M420,400C445,368 483,329 520,310C557,291 597,285 640,285C683,285 737,294 780,310C823,326 865,348 900,380C935,412 970,455 990,500C1010,545 1020,597 1020,650C1020,703 1010,768 990,820C970,872 938,922 900,960C862,998 807,1036 760,1050C713,1064 667,1060 620,1045C573,1030 520,998 480,960C440,922 402,872 380,820C358,768 347,703 345,650C343,597 358,542 370,500C382,458 395,432 420,400Z"/></clipPath>
<filter id="fb26" x="-50%" y="-50%" width="200%" height="200%"><feGaussianBlur stdDeviation="26"/></filter>
<path d="M420,400C445,368 483,329 520,310C557,291 597,285 640,285C683,285 737,294 780,310C823,326 865,348 900,380C935,412 970,455 990,500C1010,545 1020,597 1020,650C1020,703 1010,768 990,820C970,872 938,922 900,960C862,998 807,1036 760,1050C713,1064 667,1060 620,1045C573,1030 520,998 480,960C440,922 402,872 380,820C358,768 347,703 345,650C343,597 358,542 370,500C382,458 395,432 420,400Z" fill="#1a9cff"/>
<g clip-path="url(#cp25)"><g filter="url(#fb26)">
<ellipse cx="660" cy="670" rx="300" ry="340" fill="#22c8ff" transform="rotate(0 660 670)" opacity="1"/>
<ellipse cx="680" cy="650" rx="250" ry="280" fill="#18dcff" transform="rotate(0 680 650)" opacity="1"/>
<ellipse cx="620" cy="660" rx="110" ry="120" fill="#30d0ff" transform="rotate(0 620 660)" opacity="1"/>
<ellipse cx="700" cy="500" rx="40" ry="140" fill="#12dcff" transform="rotate(-20 700 500)" opacity="1"/>
</g></g>
<path d="M800,320C817,331 869,355 900,385C931,415 967,458 985,500C1003,542 1006,617 1010,640" stroke="#1418e0" stroke-width="30" fill="none" stroke-linecap="round"/>
<text x="630" y="120" font-size="100" text-anchor="middle" fill="#000">I</text>
<path d="M630,145L630,228" stroke="#333" stroke-width="6" stroke-dasharray="9 6" fill="none"/>
<path d="M630,238L595,175L630,198L665,175Z" fill="#000"/>
<text x="350" y="1160" font-size="100" text-anchor="middle" fill="#000">O</text>
<path d="M410,1125L514,1038" stroke="#333" stroke-width="6" stroke-dasharray="9 6" fill="none"/>
<path d="M522,1032L495,1099L492,1057L451,1046Z" fill="#000"/>
</g>
<g transform="translate(688,346) scale(0.15894)">
<clipPath id="cp27"><path d="M455,85C470,73 537,76 545,85C553,94 524,141 525,160C526,179 550,222 555,250C560,278 567,373 565,400C563,427 542,461 537,480C532,499 521,540 522,560C523,580 536,627 545,650C554,673 584,738 600,760C616,782 664,825 680,842C696,859 720,890 740,902C760,914 810,937 850,942C890,947 1057,928 1085,945C1113,962 1114,1076 1090,1090C1066,1104 918,1070 880,1062C842,1054 788,1031 760,1022C732,1013 663,991 640,982C617,973 580,949 560,942C540,935 489,921 470,922C451,923 418,942 400,952C382,962 330,1021 320,1012C310,1003 308,904 315,872C322,840 369,769 380,742C391,715 408,670 410,642C412,614 394,528 395,500C396,472 419,425 420,400C421,375 400,306 400,282C400,258 414,213 420,190C426,167 440,97 455,85Z"/></clipPath>
<filter id="fb28" x="-50%" y="-50%" width="200%" height="200%"><feGaussianBlur stdDeviation="14"/></filter>
<path d="M455,85C470,73 537,76 545,85C553,94 524,141 525,160C526,179 550,222 555,250C560,278 567,373 565,400C563,427 542,461 537,480C532,499 521,540 522,560C523,580 536,627 545,650C554,673 584,738 600,760C616,782 664,825 680,842C696,859 720,890 740,902C760,914 810,937 850,942C890,947 1057,928 1085,945C1113,962 1114,1076 1090,1090C1066,1104 918,1070 880,1062C842,1054 788,1031 760,1022C732,1013 663,991 640,982C617,973 580,949 560,942C540,935 489,921 470,922C451,923 418,942 400,952C382,962 330,1021 320,1012C310,1003 308,904 315,872C322,840 369,769 380,742C391,715 408,670 410,642C412,614 394,528 395,500C396,472 419,425 420,400C421,375 400,306 400,282C400,258 414,213 420,190C426,167 440,97 455,85Z" fill="#1466f0"/>
<g clip-path="url(#cp27)"><g filter="url(#fb28)">
<ellipse cx="495" cy="120" rx="50" ry="60" fill="#fff000" transform="rotate(0 495 120)" opacity="1"/>
<ellipse cx="470" cy="170" rx="40" ry="40" fill="#ff8a00" transform="rotate(0 470 170)" opacity="1"/>
<ellipse cx="500" cy="220" rx="40" ry="60" fill="#f0141e" transform="rotate(0 500 220)" opacity="1"/>
<ellipse cx="450" cy="320" rx="50" ry="100" fill="#12dcff" transform="rotate(0 450 320)" opacity="1"/>
<ellipse cx="530" cy="360" rx="30" ry="100" fill="#5a14b4" transform="rotate(0 530 360)" opacity="1"/>
<ellipse cx="480" cy="420" rx="40" ry="60" fill="#1aa0ff" transform="rotate(0 480 420)" opacity="1"/>
<ellipse cx="430" cy="520" rx="40" ry="80" fill="#f0141e" transform="rotate(0 430 520)" opacity="1"/>
<ellipse cx="460" cy="560" rx="30" ry="40" fill="#fff000" transform="rotate(0 460 560)" opacity="1"/>
<ellipse cx="500" cy="620" rx="30" ry="60" fill="#5a14b4" transform="rotate(0 500 620)" opacity="1"/>
<ellipse cx="430" cy="660" rx="40" ry="60" fill="#ff8a00" transform="rotate(0 430 660)" opacity="1"/>
<ellipse cx="470" cy="700" rx="30" ry="70" fill="#12dcff" transform="rotate(0 470 700)" opacity="1"/>
<ellipse cx="380" cy="780" rx="50" ry="60" fill="#1418e0" transform="rotate(0 380 780)" opacity="1"/>
<ellipse cx="420" cy="800" rx="40" ry="50" fill="#f0141e" transform="rotate(0 420 800)" opacity="1"/>
<ellipse cx="350" cy="900" rx="60" ry="80" fill="#fff000" transform="rotate(0 350 900)" opacity="1"/>
<ellipse cx="420" cy="880" rx="40" ry="60" fill="#ff8a00" transform="rotate(0 420 880)" opacity="1"/>
<ellipse cx="560" cy="840" rx="90" ry="90" fill="#12dcff" transform="rotate(0 560 840)" opacity="1"/>
<ellipse cx="620" cy="930" rx="70" ry="40" fill="#12dcff" transform="rotate(0 620 930)" opacity="1"/>
<ellipse cx="740" cy="960" rx="100" ry="70" fill="#fff000" transform="rotate(0 740 960)" opacity="1"/>
<ellipse cx="800" cy="980" rx="60" ry="60" fill="#e0d000" transform="rotate(0 800 980)" opacity="1"/>
<ellipse cx="950" cy="1010" rx="120" ry="80" fill="#c0145a" transform="rotate(0 950 1010)" opacity="1"/>
<ellipse cx="900" cy="990" rx="50" ry="50" fill="#f0141e" transform="rotate(0 900 990)" opacity="1"/>
<ellipse cx="1050" cy="1000" rx="60" ry="80" fill="#5a14b4" transform="rotate(0 1050 1000)" opacity="1"/>
<ellipse cx="1000" cy="1030" rx="40" ry="30" fill="#ff8a00" transform="rotate(0 1000 1030)" opacity="1"/>
</g></g>
<path d="M375,572L535,572" stroke="#000" stroke-width="22" stroke-dasharray="48 26" fill="none"/>
<text x="620" y="600" font-size="94" text-anchor="middle" fill="#000">PV</text>
<text x="740" y="815" font-size="94" text-anchor="middle" fill="#000">PA</text>
<path d="M725,850L640,1000" stroke="#000" stroke-width="22" stroke-dasharray="48 26" fill="none"/>
</g>
<g transform="translate(896,346) scale(0.15894)">
<clipPath id="cp29"><path d="M480,545C490,525 530,502 560,490C590,478 627,473 660,475C693,477 736,484 760,500C784,516 800,548 805,570C810,592 808,614 790,630C772,646 735,661 700,665C665,669 613,664 580,655C547,646 517,628 500,610C483,592 470,565 480,545Z"/></clipPath>
<filter id="fb30" x="-50%" y="-50%" width="200%" height="200%"><feGaussianBlur stdDeviation="8"/></filter>
<path d="M480,545C490,525 530,502 560,490C590,478 627,473 660,475C693,477 736,484 760,500C784,516 800,548 805,570C810,592 808,614 790,630C772,646 735,661 700,665C665,669 613,664 580,655C547,646 517,628 500,610C483,592 470,565 480,545Z" fill="#6010b0"/>
<g clip-path="url(#cp29)"><g filter="url(#fb30)">
<ellipse cx="560" cy="545" rx="50" ry="32" fill="#1a8cff" transform="rotate(0 560 545)" opacity="1"/>
<ellipse cx="710" cy="595" rx="55" ry="32" fill="#1a8cff" transform="rotate(0 710 595)" opacity="1"/>
<ellipse cx="640" cy="500" rx="80" ry="25" fill="#1418e0" transform="rotate(0 640 500)" opacity="1"/>
<ellipse cx="665" cy="520" rx="30" ry="24" fill="#fff000" transform="rotate(0 665 520)" opacity="1"/>
<ellipse cx="612" cy="598" rx="26" ry="22" fill="#ff8a00" transform="rotate(0 612 598)" opacity="1"/>
<ellipse cx="790" cy="580" rx="30" ry="70" fill="#f0141e" transform="rotate(0 790 580)" opacity="1"/>
<ellipse cx="700" cy="660" rx="80" ry="22" fill="#f0141e" transform="rotate(0 700 660)" opacity="1"/>
<ellipse cx="540" cy="640" rx="40" ry="20" fill="#f0141e" transform="rotate(0 540 640)" opacity="1"/>
<ellipse cx="560" cy="490" rx="40" ry="20" fill="#f0141e" transform="rotate(0 560 490)" opacity="1"/>
</g></g>
<path d="M505,530C501,538 478,562 482,580C486,598 504,622 530,635C556,648 622,652 640,655" stroke="#fff000" stroke-width="24" fill="none" stroke-linecap="round"/>
<path d="M640,660C653,660 694,670 720,662C746,654 782,623 795,615" stroke="#f0141e" stroke-width="16" fill="none" stroke-linecap="round"/>
<text x="245" y="610" font-size="100" text-anchor="middle" fill="#000">O</text>
<path d="M310,580L450,580" stroke="#333" stroke-width="6" stroke-dasharray="9 6" fill="none"/>
<path d="M460,580L397,615L420,580L397,545Z" fill="#000"/>
<text x="1040" y="610" font-size="100" text-anchor="middle" fill="#000">I</text>
<path d="M1010,585L865,585" stroke="#333" stroke-width="6" stroke-dasharray="9 6" fill="none"/>
<path d="M855,585L918,550L895,585L918,620Z" fill="#000"/>
</g>
<g transform="translate(1104,346) scale(0.15894)">
<ellipse cx="675" cy="612" rx="162" ry="152" fill="#fff000" transform="rotate(0 675 612)" opacity="1"/>
<ellipse cx="675" cy="618" rx="136" ry="130" fill="#e82018" transform="rotate(0 675 618)" opacity="1"/>
<ellipse cx="675" cy="622" rx="122" ry="118" fill="#4a14a0" transform="rotate(0 675 622)" opacity="1"/>
<ellipse cx="675" cy="625" rx="110" ry="105" fill="#18c4ff" transform="rotate(0 675 625)" opacity="1"/>
<ellipse cx="680" cy="600" rx="50" ry="40" fill="#12dcff" transform="rotate(0 680 600)" opacity="1"/>
<text x="655" y="290" font-size="100" text-anchor="middle" fill="#000">I</text>
<path d="M655,310L655,410" stroke="#333" stroke-width="6" stroke-dasharray="9 6" fill="none"/>
<path d="M655,420L620,357L655,380L690,357Z" fill="#000"/>
<text x="675" y="1010" font-size="100" text-anchor="middle" fill="#000">O</text>
<path d="M675,905L675,810" stroke="#333" stroke-width="6" stroke-dasharray="9 6" fill="none"/>
<path d="M675,800L710,863L675,840L640,863Z" fill="#000"/>
</g>
<g transform="translate(62,535) scale(0.15894)">
<clipPath id="cp31"><path d="M155,50C187,32 377,38 410,50C443,62 431,125 440,150C449,175 482,235 490,262C498,289 509,355 510,380C511,405 504,459 500,480C496,501 487,541 480,560C473,579 447,623 440,642C433,661 419,704 418,722C417,740 420,790 432,800C444,810 500,813 520,812C540,811 567,796 600,792C633,788 745,784 800,782C855,780 1042,738 1075,777C1108,816 1100,1076 1080,1115C1060,1154 944,1111 900,1112C856,1113 741,1123 700,1122C659,1121 585,1106 550,1102C515,1098 427,1097 400,1092C373,1087 341,1058 320,1062C299,1066 244,1112 220,1122C196,1132 123,1188 110,1152C97,1116 105,853 110,812C115,771 150,821 155,802C160,783 152,685 150,650C148,615 142,535 140,500C138,465 131,385 130,350C129,315 132,235 135,200C138,165 123,68 155,50Z"/></clipPath>
<filter id="fb32" x="-50%" y="-50%" width="200%" height="200%"><feGaussianBlur stdDeviation="16"/></filter>
<path d="M155,50C187,32 377,38 410,50C443,62 431,125 440,150C449,175 482,235 490,262C498,289 509,355 510,380C511,405 504,459 500,480C496,501 487,541 480,560C473,579 447,623 440,642C433,661 419,704 418,722C417,740 420,790 432,800C444,810 500,813 520,812C540,811 567,796 600,792C633,788 745,784 800,782C855,780 1042,738 1075,777C1108,816 1100,1076 1080,1115C1060,1154 944,1111 900,1112C856,1113 741,1123 700,1122C659,1121 585,1106 550,1102C515,1098 427,1097 400,1092C373,1087 341,1058 320,1062C299,1066 244,1112 220,1122C196,1132 123,1188 110,1152C97,1116 105,853 110,812C115,771 150,821 155,802C160,783 152,685 150,650C148,615 142,535 140,500C138,465 131,385 130,350C129,315 132,235 135,200C138,165 123,68 155,50Z" fill="#1466f0"/>
<g clip-path="url(#cp31)"><g filter="url(#fb32)">
<ellipse cx="300" cy="110" rx="130" ry="80" fill="#5a14b4" transform="rotate(0 300 110)" opacity="1"/>
<ellipse cx="220" cy="220" rx="70" ry="90" fill="#1aa0ff" transform="rotate(0 220 220)" opacity="1"/>
<ellipse cx="320" cy="250" rx="80" ry="90" fill="#5a14b4" transform="rotate(20 320 250)" opacity="1"/>
<ellipse cx="380" cy="380" rx="100" ry="110" fill="#12dcff" transform="rotate(0 380 380)" opacity="1"/>
<ellipse cx="250" cy="430" rx="80" ry="70" fill="#1aa0ff" transform="rotate(0 250 430)" opacity="1"/>
<ellipse cx="480" cy="420" rx="30" ry="80" fill="#c0145a" transform="rotate(0 480 420)" opacity="1"/>
<ellipse cx="300" cy="620" rx="140" ry="110" fill="#12dcff" transform="rotate(0 300 620)" opacity="1"/>
<ellipse cx="420" cy="560" rx="40" ry="80" fill="#1aa0ff" transform="rotate(0 420 560)" opacity="1"/>
<ellipse cx="200" cy="970" rx="120" ry="140" fill="#1466f0" transform="rotate(0 200 970)" opacity="1"/>
<ellipse cx="160" cy="900" rx="40" ry="40" fill="#5a14b4" transform="rotate(0 160 900)" opacity="1"/>
<path d="M140,800C158,797 218,780 250,780C282,780 312,780 330,800C348,820 353,858 355,900C357,942 342,1025 340,1050" stroke="#f0141e" stroke-width="50" fill="none" stroke-linecap="round" opacity="1"/>
<path d="M270,800C281,808 322,825 335,850C348,875 343,933 345,950" stroke="#fff000" stroke-width="30" fill="none" stroke-linecap="round" opacity="1"/>
<path d="M200,790C213,790 267,790 280,790" stroke="#ff8a00" stroke-width="25" fill="none" stroke-linecap="round" opacity="1"/>
<ellipse cx="400" cy="780" rx="30" ry="100" fill="#5a14b4" transform="rotate(0 400 780)" opacity="1"/>
<ellipse cx="480" cy="920" rx="80" ry="120" fill="#2cb8c8" transform="rotate(0 480 920)" opacity="1"/>
<path d="M560,760L1200,760L1200,1200L520,1200Z" fill="#3ec8d2" opacity="1"/>
<ellipse cx="900" cy="900" rx="120" ry="80" fill="#58dce0" transform="rotate(0 900 900)" opacity="1"/>
<ellipse cx="800" cy="1060" rx="250" ry="30" fill="#2aa8b4" transform="rotate(0 800 1060)" opacity="1"/>
<ellipse cx="560" cy="900" rx="60" ry="120" fill="#2a9ab0" transform="rotate(0 560 900)" opacity="1"/>
</g></g>
<path d="M135,520L500,520" stroke="#000" stroke-width="22" stroke-dasharray="48 26" fill="none"/>
<text x="600" y="548" font-size="94" text-anchor="middle" fill="#000">PV</text>
<text x="630" y="745" font-size="94" text-anchor="middle" fill="#000">PA</text>
<path d="M630,765L630,1130" stroke="#000" stroke-width="22" stroke-dasharray="48 26" fill="none"/>
</g>
<g transform="translate(271,535) scale(0.15894)">
<clipPath id="cp33"><path d="M380,160C418,133 470,111 520,100C570,89 625,87 680,95C735,103 800,122 850,150C900,178 945,222 980,260C1015,298 1041,337 1060,380C1079,423 1090,475 1095,520C1100,565 1098,610 1090,650C1082,690 1072,718 1050,760C1028,802 992,858 960,900C928,942 897,983 860,1010C823,1037 782,1050 740,1062C698,1074 647,1083 610,1085C573,1087 552,1088 520,1072C488,1056 452,1027 420,992C388,957 360,910 330,862C300,814 261,756 240,702C219,648 207,592 205,540C203,488 216,437 230,390C244,343 265,298 290,260C315,222 342,187 380,160Z"/></clipPath>
<filter id="fb34" x="-50%" y="-50%" width="200%" height="200%"><feGaussianBlur stdDeviation="30"/></filter>
<path d="M380,160C418,133 470,111 520,100C570,89 625,87 680,95C735,103 800,122 850,150C900,178 945,222 980,260C1015,298 1041,337 1060,380C1079,423 1090,475 1095,520C1100,565 1098,610 1090,650C1082,690 1072,718 1050,760C1028,802 992,858 960,900C928,942 897,983 860,1010C823,1037 782,1050 740,1062C698,1074 647,1083 610,1085C573,1087 552,1088 520,1072C488,1056 452,1027 420,992C388,957 360,910 330,862C300,814 261,756 240,702C219,648 207,592 205,540C203,488 216,437 230,390C244,343 265,298 290,260C315,222 342,187 380,160Z" fill="#20c0ff"/>
<g clip-path="url(#cp33)"><g filter="url(#fb34)">
<ellipse cx="600" cy="250" rx="250" ry="120" fill="#12dcff" transform="rotate(0 600 250)" opacity="1"/>
<ellipse cx="450" cy="420" rx="150" ry="60" fill="#12dcff" transform="rotate(20 450 420)" opacity="1"/>
<ellipse cx="800" cy="820" rx="200" ry="100" fill="#12dcff" transform="rotate(-20 800 820)" opacity="1"/>
<ellipse cx="560" cy="850" rx="50" ry="50" fill="#1466f0" transform="rotate(0 560 850)" opacity="1"/>
<path d="M300,560C333,547 433,473 500,480C567,487 647,600 700,600C753,600 778,493 820,480C862,467 928,513 950,520" stroke="#1a88f0" stroke-width="80" fill="none" stroke-linecap="round" opacity="1"/>
<path d="M400,720C433,720 533,730 600,720C667,710 767,670 800,660" stroke="#1a98f0" stroke-width="60" fill="none" stroke-linecap="round" opacity="1"/>
<ellipse cx="980" cy="720" rx="40" ry="60" fill="#1466f0" transform="rotate(0 980 720)" opacity="1"/>
</g></g>
<path d="M225,520C224,533 214,570 220,600C226,630 253,683 260,700" stroke="#1418e0" stroke-width="30" fill="none" stroke-linecap="round"/>
<path d="M260,720C270,742 293,805 320,850C347,895 387,953 420,990C453,1027 488,1054 520,1070C552,1086 573,1086 610,1085C647,1084 698,1074 740,1062C782,1050 823,1039 860,1012C897,985 930,940 960,900C990,860 1020,810 1040,770C1060,730 1073,678 1080,660" stroke="#f0141e" stroke-width="32" fill="none" stroke-linecap="round"/>
<path d="M290,800C302,822 337,898 360,930C383,962 418,980 430,990" stroke="#ff8a00" stroke-width="26" fill="none" stroke-linecap="round"/>
<text x="75" y="910" font-size="100" text-anchor="middle" fill="#000">O</text>
<path d="M125,880L265,880" stroke="#333" stroke-width="6" stroke-dasharray="9 6" fill="none"/>
<path d="M275,880L212,915L235,880L212,845Z" fill="#000"/>
<text x="1235" y="910" font-size="100" text-anchor="middle" fill="#000">I</text>
<path d="M1200,882L1058,882" stroke="#333" stroke-width="6" stroke-dasharray="9 6" fill="none"/>
<path d="M1048,882L1111,847L1088,882L1111,917Z" fill="#000"/>
</g>
<g transform="translate(479,535) scale(0.15894)">
<clipPath id="cp35"><path d="M80,580C83,535 87,477 110,430C133,383 172,338 220,300C268,262 337,223 400,200C463,177 533,165 600,160C667,155 733,158 800,170C867,182 940,203 1000,230C1060,257 1120,290 1160,330C1200,370 1227,417 1240,470C1253,523 1250,592 1240,650C1230,708 1212,772 1180,820C1148,868 1100,910 1050,940C1000,970 947,986 880,1000C813,1014 720,1024 650,1022C580,1020 518,1007 460,990C402,973 350,948 300,920C250,892 195,857 160,820C125,783 103,740 90,700C77,660 77,625 80,580Z"/></clipPath>
<filter id="fb36" x="-50%" y="-50%" width="200%" height="200%"><feGaussianBlur stdDeviation="30"/></filter>
<path d="M80,580C83,535 87,477 110,430C133,383 172,338 220,300C268,262 337,223 400,200C463,177 533,165 600,160C667,155 733,158 800,170C867,182 940,203 1000,230C1060,257 1120,290 1160,330C1200,370 1227,417 1240,470C1253,523 1250,592 1240,650C1230,708 1212,772 1180,820C1148,868 1100,910 1050,940C1000,970 947,986 880,1000C813,1014 720,1024 650,1022C580,1020 518,1007 460,990C402,973 350,948 300,920C250,892 195,857 160,820C125,783 103,740 90,700C77,660 77,625 80,580Z" fill="#12dcff"/>
<g clip-path="url(#cp35)"><g filter="url(#fb36)">
<ellipse cx="300" cy="560" rx="150" ry="200" fill="#1aa0ff" transform="rotate(0 300 560)" opacity="1"/>
<ellipse cx="700" cy="450" rx="150" ry="80" fill="#1aa0ff" transform="rotate(20 700 450)" opacity="1"/>
<ellipse cx="650" cy="800" rx="200" ry="80" fill="#1aa0ff" transform="rotate(-10 650 800)" opacity="1"/>
<ellipse cx="1000" cy="650" rx="100" ry="120" fill="#18d0ff" transform="rotate(0 1000 650)" opacity="1"/>
</g></g>
<path d="M320,300C300,312 235,340 200,370C165,400 129,442 110,480C91,518 85,555 85,600C85,645 91,707 110,750C129,793 163,830 200,860C237,890 308,918 330,930" stroke="#5a14b4" stroke-width="32" fill="none" stroke-linecap="round"/>
<path d="M280,320C262,335 200,377 170,410C140,443 112,502 100,520" stroke="#c0145a" stroke-width="24" fill="none" stroke-linecap="round"/>
<ellipse cx="300" cy="460" rx="70" ry="35" fill="#1418e0" transform="rotate(0 300 460)" opacity="1"/>
<path d="M150,520C152,542 152,612 160,650C168,688 193,733 200,750" stroke="#1418e0" stroke-width="28" fill="none" stroke-linecap="round"/>
<text x="930" y="100" font-size="100" text-anchor="middle" fill="#000">I</text>
<path d="M890,75L798,136" stroke="#333" stroke-width="6" stroke-dasharray="9 6" fill="none"/>
<path d="M790,142L823,78L823,120L862,136Z" fill="#000"/>
<text x="350" y="1145" font-size="100" text-anchor="middle" fill="#000">O</text>
<path d="M410,1110L512,1043" stroke="#333" stroke-width="6" stroke-dasharray="9 6" fill="none"/>
<path d="M520,1038L486,1101L487,1060L448,1044Z" fill="#000"/>
</g>
<g transform="translate(688,535) scale(0.15894)">
<clipPath id="cp37"><path d="M420,55C438,40 554,44 570,55C586,66 555,126 555,150C555,174 568,230 570,262C572,294 578,389 575,420C572,451 552,509 540,530C528,551 480,584 470,602C460,620 448,663 450,682C452,701 472,747 490,762C508,777 576,802 600,812C624,822 665,842 700,852C735,862 848,895 900,902C952,909 1116,889 1145,912C1174,935 1162,1073 1145,1095C1128,1117 1034,1106 1000,1100C966,1094 885,1053 850,1042C815,1031 732,1010 700,1002C668,994 607,980 580,972C553,964 491,938 470,932C449,926 416,915 400,917C384,919 347,944 330,952C313,960 264,997 255,982C246,967 246,848 255,822C264,796 319,782 330,762C341,742 348,683 350,652C352,621 345,546 345,500C345,454 341,299 350,262C359,225 412,204 420,180C428,156 402,70 420,55Z"/></clipPath>
<filter id="fb38" x="-50%" y="-50%" width="200%" height="200%"><feGaussianBlur stdDeviation="12"/></filter>
<path d="M420,55C438,40 554,44 570,55C586,66 555,126 555,150C555,174 568,230 570,262C572,294 578,389 575,420C572,451 552,509 540,530C528,551 480,584 470,602C460,620 448,663 450,682C452,701 472,747 490,762C508,777 576,802 600,812C624,822 665,842 700,852C735,862 848,895 900,902C952,909 1116,889 1145,912C1174,935 1162,1073 1145,1095C1128,1117 1034,1106 1000,1100C966,1094 885,1053 850,1042C815,1031 732,1010 700,1002C668,994 607,980 580,972C553,964 491,938 470,932C449,926 416,915 400,917C384,919 347,944 330,952C313,960 264,997 255,982C246,967 246,848 255,822C264,796 319,782 330,762C341,742 348,683 350,652C352,621 345,546 345,500C345,454 341,299 350,262C359,225 412,204 420,180C428,156 402,70 420,55Z" fill="#f5e400"/>
<g clip-path="url(#cp37)"><g filter="url(#fb38)">
<ellipse cx="420" cy="450" rx="50" ry="110" fill="#f0141e" transform="rotate(15 420 450)" opacity="1"/>
<ellipse cx="415" cy="470" rx="30" ry="95" fill="#5a14b4" transform="rotate(15 415 470)" opacity="1"/>
<ellipse cx="420" cy="480" rx="18" ry="80" fill="#12dcff" transform="rotate(15 420 480)" opacity="1"/>
<ellipse cx="530" cy="420" rx="25" ry="60" fill="#d09000" transform="rotate(0 530 420)" opacity="1"/>
<ellipse cx="320" cy="840" rx="30" ry="80" fill="#5a14b4" transform="rotate(0 320 840)" opacity="1"/>
<ellipse cx="400" cy="800" rx="25" ry="90" fill="#f0141e" transform="rotate(0 400 800)" opacity="1"/>
<ellipse cx="460" cy="820" rx="40" ry="50" fill="#5a14b4" transform="rotate(0 460 820)" opacity="1"/>
<ellipse cx="490" cy="860" rx="40" ry="60" fill="#1418e0" transform="rotate(0 490 860)" opacity="1"/>
<ellipse cx="540" cy="880" rx="50" ry="50" fill="#f0141e" transform="rotate(0 540 880)" opacity="1"/>
<ellipse cx="600" cy="860" rx="40" ry="40" fill="#fff000" transform="rotate(0 600 860)" opacity="1"/>
<ellipse cx="560" cy="820" rx="40" ry="40" fill="#5a14b4" transform="rotate(0 560 820)" opacity="1"/>
<ellipse cx="470" cy="940" rx="60" ry="40" fill="#1aa0ff" transform="rotate(0 470 940)" opacity="1"/>
<ellipse cx="580" cy="960" rx="40" ry="40" fill="#12dcff" transform="rotate(0 580 960)" opacity="1"/>
<path d="M650,820L1250,860L1250,1160L540,1010Z" fill="#2cd8ec" opacity="1"/>
<ellipse cx="750" cy="930" rx="100" ry="80" fill="#30d0e8" transform="rotate(0 750 930)" opacity="1"/>
</g></g>
<path d="M310,525L605,525" stroke="#000" stroke-width="22" stroke-dasharray="48 26" fill="none"/>
<text x="705" y="555" font-size="94" text-anchor="middle" fill="#000">PV</text>
<text x="700" y="780" font-size="94" text-anchor="middle" fill="#000">PA</text>
<path d="M670,810L555,1010" stroke="#000" stroke-width="22" stroke-dasharray="48 26" fill="none"/>
</g>
<g transform="translate(896,535) scale(0.15894)">
<clipPath id="cp39"><path d="M430,340C453,322 498,313 540,310C582,307 637,308 680,320C723,332 767,360 800,380C833,400 858,415 880,440C902,465 925,503 930,530C935,557 927,573 910,600C893,627 862,662 830,690C798,718 758,745 720,770C682,795 637,823 600,840C563,857 530,873 500,870C470,867 439,848 420,820C401,792 392,745 385,700C378,655 378,597 380,550C382,503 392,455 400,420C408,385 407,358 430,340Z"/></clipPath>
<filter id="fb40" x="-50%" y="-50%" width="200%" height="200%"><feGaussianBlur stdDeviation="10"/></filter>
<path d="M430,340C453,322 498,313 540,310C582,307 637,308 680,320C723,332 767,360 800,380C833,400 858,415 880,440C902,465 925,503 930,530C935,557 927,573 910,600C893,627 862,662 830,690C798,718 758,745 720,770C682,795 637,823 600,840C563,857 530,873 500,870C470,867 439,848 420,820C401,792 392,745 385,700C378,655 378,597 380,550C382,503 392,455 400,420C408,385 407,358 430,340Z" fill="#5a14c0"/>
<g clip-path="url(#cp39)"><g filter="url(#fb40)">
<ellipse cx="700" cy="520" rx="60" ry="120" fill="#30c0ff" transform="rotate(0 700 520)" opacity="1"/>
<ellipse cx="470" cy="520" rx="50" ry="40" fill="#30b0ff" transform="rotate(0 470 520)" opacity="1"/>
<ellipse cx="560" cy="840" rx="80" ry="35" fill="#30b0ff" transform="rotate(0 560 840)" opacity="1"/>
<ellipse cx="460" cy="700" rx="40" ry="60" fill="#1418e0" transform="rotate(0 460 700)" opacity="1"/>
<ellipse cx="600" cy="600" rx="80" ry="80" fill="#4010b0" transform="rotate(0 600 600)" opacity="1"/>
<ellipse cx="850" cy="520" rx="55" ry="140" fill="#f0141e" transform="rotate(20 850 520)" opacity="1"/>
<ellipse cx="660" cy="720" rx="100" ry="40" fill="#f0141e" transform="rotate(-30 660 720)" opacity="1"/>
<ellipse cx="715" cy="700" rx="45" ry="25" fill="#ff8a00" transform="rotate(-30 715 700)" opacity="1"/>
<ellipse cx="560" cy="370" rx="130" ry="50" fill="#f0141e" transform="rotate(0 560 370)" opacity="1"/>
<ellipse cx="470" cy="430" rx="50" ry="40" fill="#c0145a" transform="rotate(0 470 430)" opacity="1"/>
<ellipse cx="880" cy="470" rx="30" ry="60" fill="#ff8a00" transform="rotate(0 880 470)" opacity="1"/>
<ellipse cx="600" cy="330" rx="60" ry="20" fill="#fff000" transform="rotate(0 600 330)" opacity="1"/>
</g></g>
<path d="M430,360C425,377 408,417 400,460C392,503 386,567 385,620C384,673 393,753 395,780" stroke="#fff000" stroke-width="36" fill="none" stroke-linecap="round"/>
<path d="M470,335C485,332 523,317 560,315C597,313 668,323 690,325" stroke="#ffb000" stroke-width="22" fill="none" stroke-linecap="round"/>
<path d="M880,640C865,655 827,701 790,730C753,759 705,793 660,815C615,837 543,854 520,862" stroke="#30a0ff" stroke-width="14" fill="none" stroke-linecap="round"/>
<text x="115" y="585" font-size="100" text-anchor="middle" fill="#000">O</text>
<path d="M180,555L320,555" stroke="#333" stroke-width="6" stroke-dasharray="9 6" fill="none"/>
<path d="M330,555L267,590L290,555L267,520Z" fill="#000"/>
<text x="1165" y="590" font-size="100" text-anchor="middle" fill="#000">I</text>
<path d="M1135,565L992,565" stroke="#333" stroke-width="6" stroke-dasharray="9 6" fill="none"/>
<path d="M982,565L1045,530L1022,565L1045,600Z" fill="#000"/>
</g>
<g transform="translate(1104,535) scale(0.15894)">
<clipPath id="cp41"><path d="M440,540C447,497 470,449 500,420C530,391 577,372 620,365C663,358 718,364 760,375C802,386 842,399 870,430C898,461 919,517 925,560C931,603 922,653 905,690C888,727 858,760 820,780C782,800 727,812 680,810C633,808 577,792 540,770C503,748 477,718 460,680C443,642 433,583 440,540Z"/></clipPath>
<filter id="fb42" x="-50%" y="-50%" width="200%" height="200%"><feGaussianBlur stdDeviation="14"/></filter>
<path d="M440,540C447,497 470,449 500,420C530,391 577,372 620,365C663,358 718,364 760,375C802,386 842,399 870,430C898,461 919,517 925,560C931,603 922,653 905,690C888,727 858,760 820,780C782,800 727,812 680,810C633,808 577,792 540,770C503,748 477,718 460,680C443,642 433,583 440,540Z" fill="#18b4ff"/>
<g clip-path="url(#cp41)"><g filter="url(#fb42)">
<ellipse cx="640" cy="480" rx="150" ry="100" fill="#12dcff" transform="rotate(0 640 480)" opacity="1"/>
<ellipse cx="560" cy="640" rx="100" ry="60" fill="#1488f0" transform="rotate(0 560 640)" opacity="1"/>
<ellipse cx="840" cy="560" rx="70" ry="100" fill="#5a14b4" transform="rotate(0 840 560)" opacity="1"/>
<ellipse cx="850" cy="550" rx="45" ry="65" fill="#f0141e" transform="rotate(0 850 550)" opacity="1"/>
<ellipse cx="855" cy="545" rx="20" ry="30" fill="#fff000" transform="rotate(0 855 545)" opacity="1"/>
</g></g>
<text x="640" y="190" font-size="100" text-anchor="middle" fill="#000">I</text>
<path d="M640,210L640,330" stroke="#333" stroke-width="6" stroke-dasharray="9 6" fill="none"/>
<path d="M640,340L605,277L640,300L675,277Z" fill="#000"/>
<text x="655" y="1070" font-size="100" text-anchor="middle" fill="#000">O</text>
<path d="M655,965L655,872" stroke="#333" stroke-width="6" stroke-dasharray="9 6" fill="none"/>
<path d="M655,862L690,925L655,902L620,925Z" fill="#000"/>
</g></g>
<path d="M2.4000000000000004,31.4H1312.7 M2.4000000000000004,93.9H1312.7 M2.4000000000000004,156.5H1312.7 M2.4000000000000004,345.7H1312.7 M2.4000000000000004,534.8H1312.7 M2.4000000000000004,723.5H1312.7 M2.4000000000000004,787.4H1312.7 M3.7,31.4V787.4 M1311.4,31.4V787.4 M61.8,31.4V723.5 M686.60,31.4V723.5 M270.07,93.9V723.5 M478.33,93.9V723.5 M894.87,93.9V723.5 M1103.13,93.9V723.5" stroke="#000" stroke-width="2.6" fill="none"/>
<text x="4.5" y="22.2" font-size="24" font-weight="bold" text-anchor="start" fill="#000" >A</text>
<text x="374.6" y="76.2" font-size="36" font-weight="normal" text-anchor="middle" fill="#000" >No Intervention</text>
<text x="999.3" y="76.2" font-size="36" font-weight="normal" text-anchor="middle" fill="#000" >Required Intervention</text>
<text x="374.20" y="138.6" font-size="36" font-weight="normal" text-anchor="middle" fill="#000" >PV</text>
<text x="582.47" y="138.6" font-size="36" font-weight="normal" text-anchor="middle" fill="#000" >PA</text>
<text x="999.00" y="138.6" font-size="36" font-weight="normal" text-anchor="middle" fill="#000" >PV</text>
<text x="1207.27" y="138.6" font-size="36" font-weight="normal" text-anchor="middle" fill="#000" >PA</text>
<text transform="translate(48.3,305.0) rotate(-90)" font-size="31.5" font-weight="normal" text-anchor="start" >1 Day</text>
<text transform="translate(47.5,511.2) rotate(-90)" font-size="32.5" font-weight="normal" text-anchor="start" >6 Weeks</text>
<text transform="translate(47.5,713.7) rotate(-90)" font-size="32.5" font-weight="normal" text-anchor="start" >6 Months</text>
<text x="193.3" y="174.8" font-size="15.5" font-weight="normal" text-anchor="start" fill="#000" textLength="67.6" lengthAdjust="spacingAndGlyphs">Side view</text>
<text x="816.1" y="176.4" font-size="15.5" font-weight="normal" text-anchor="start" fill="#000" textLength="67.6" lengthAdjust="spacingAndGlyphs">Side view</text>
<text x="390.6" y="176.9" font-size="15.5" font-weight="normal" text-anchor="start" fill="#000" textLength="82.6" lengthAdjust="spacingAndGlyphs">Radial slice</text>
<text x="597.0" y="176.9" font-size="15.5" font-weight="normal" text-anchor="start" fill="#000" textLength="82.6" lengthAdjust="spacingAndGlyphs">Radial slice</text>
<text x="1011.5999999999999" y="176.9" font-size="15.5" font-weight="normal" text-anchor="start" fill="#000" textLength="82.6" lengthAdjust="spacingAndGlyphs">Radial slice</text>
<text x="1220.3999999999999" y="176.9" font-size="15.5" font-weight="normal" text-anchor="start" fill="#000" textLength="82.6" lengthAdjust="spacingAndGlyphs">Radial slice</text>
<text x="339.1" y="748" font-size="19" font-weight="normal" text-anchor="start" fill="#000" >Vorticity (1/s)</text>
<text x="270.0" y="772.3" font-size="18.5" font-weight="normal" text-anchor="start" fill="#000" >0</text>
<text x="502.5" y="772.3" font-size="18.5" font-weight="normal" text-anchor="start" fill="#000" >4000</text>
<rect x="287.1" y="758" width="205.6" height="17.7" fill="url(#cbar)" stroke="#777" stroke-width="0.8"/>
<text x="645.2" y="762" font-size="18.7" font-weight="normal" text-anchor="start" fill="#000" >Side view:</text>
<text x="736.3" y="762" font-size="17.3" font-weight="normal" text-anchor="start" fill="#000" >5 mm</text>
<rect x="746.6" y="765.8" width="29.4" height="2" fill="#000"/>
<text x="846.8" y="762" font-size="18.7" font-weight="normal" text-anchor="start" fill="#000" >Radial slice:</text>
<text x="966.3" y="762" font-size="17.3" font-weight="normal" text-anchor="start" fill="#000" >5 mm</text>
<rect x="949.4" y="765.8" width="76.6" height="2" fill="#000"/>
<path d="M270.7,874.3V1135.8M260.5,1135.8H663" stroke="#000" stroke-width="3" fill="none"/>
<path d="M260.2,875.49H270.7" stroke="#000" stroke-width="3"/>
<text x="256.2" y="882.29" font-size="19.5" font-weight="bold" text-anchor="end" fill="#000" >3000</text>
<path d="M260.2,962.26H270.7" stroke="#000" stroke-width="3"/>
<text x="256.2" y="969.06" font-size="19.5" font-weight="bold" text-anchor="end" fill="#000" >2000</text>
<path d="M260.2,1049.03H270.7" stroke="#000" stroke-width="3"/>
<text x="256.2" y="1055.83" font-size="19.5" font-weight="bold" text-anchor="end" fill="#000" >1000</text>
<path d="M260.2,1135.80H270.7" stroke="#000" stroke-width="3"/>
<text x="256.2" y="1142.60" font-size="19.5" font-weight="bold" text-anchor="end" fill="#000" >0</text>
<path d="M283.70,1135.8V1149.8" stroke="#000" stroke-width="3"/>
<text x="283.70" y="1172.5" font-size="19" font-weight="bold" text-anchor="middle" fill="#000" >1</text>
<path d="M360.58,1135.8V1149.8" stroke="#000" stroke-width="3"/>
<text x="360.58" y="1172.5" font-size="19" font-weight="bold" text-anchor="middle" fill="#000" >5</text>
<path d="M456.68,1135.8V1149.8" stroke="#000" stroke-width="3"/>
<text x="456.68" y="1172.5" font-size="19" font-weight="bold" text-anchor="middle" fill="#000" >10</text>
<path d="M552.78,1135.8V1149.8" stroke="#000" stroke-width="3"/>
<text x="552.78" y="1172.5" font-size="19" font-weight="bold" text-anchor="middle" fill="#000" >15</text>
<path d="M648.88,1135.8V1149.8" stroke="#000" stroke-width="3"/>
<text x="648.88" y="1172.5" font-size="19" font-weight="bold" text-anchor="middle" fill="#000" >20</text>
<circle cx="283.70" cy="923.82" r="4" fill="none" stroke="#111" stroke-width="1.5"/>
<circle cx="302.92" cy="940.48" r="4" fill="none" stroke="#111" stroke-width="1.5"/>
<circle cx="322.14" cy="948.38" r="4" fill="none" stroke="#111" stroke-width="1.5"/>
<circle cx="341.36" cy="961.74" r="4" fill="none" stroke="#111" stroke-width="1.5"/>
<circle cx="360.58" cy="971.63" r="4" fill="none" stroke="#111" stroke-width="1.5"/>
<circle cx="379.80" cy="964.43" r="4" fill="none" stroke="#111" stroke-width="1.5"/>
<circle cx="399.02" cy="975.02" r="4" fill="none" stroke="#111" stroke-width="1.5"/>
<circle cx="418.24" cy="988.64" r="4" fill="none" stroke="#111" stroke-width="1.5"/>
<circle cx="437.46" cy="990.11" r="4" fill="none" stroke="#111" stroke-width="1.5"/>
<circle cx="456.68" cy="999.22" r="4" fill="none" stroke="#111" stroke-width="1.5"/>
<circle cx="475.90" cy="1002.69" r="4" fill="none" stroke="#111" stroke-width="1.5"/>
<circle cx="495.12" cy="1002.00" r="4" fill="none" stroke="#111" stroke-width="1.5"/>
<circle cx="514.34" cy="1010.85" r="4" fill="none" stroke="#111" stroke-width="1.5"/>
<circle cx="533.56" cy="1024.13" r="4" fill="none" stroke="#111" stroke-width="1.5"/>
<circle cx="552.78" cy="1018.40" r="4" fill="none" stroke="#111" stroke-width="1.5"/>
<circle cx="572.00" cy="1009.72" r="4" fill="none" stroke="#111" stroke-width="1.5"/>
<circle cx="591.22" cy="1007.29" r="4" fill="none" stroke="#111" stroke-width="1.5"/>
<circle cx="610.44" cy="1003.22" r="4" fill="none" stroke="#111" stroke-width="1.5"/>
<circle cx="629.66" cy="1005.12" r="4" fill="none" stroke="#111" stroke-width="1.5"/>
<circle cx="648.88" cy="1010.59" r="4" fill="none" stroke="#111" stroke-width="1.5"/>
<circle cx="283.70" cy="981.44" r="4" fill="none" stroke="#e0186c" stroke-width="1.5"/>
<circle cx="302.92" cy="982.39" r="4" fill="none" stroke="#e0186c" stroke-width="1.5"/>
<circle cx="322.14" cy="994.97" r="4" fill="none" stroke="#e0186c" stroke-width="1.5"/>
<circle cx="341.36" cy="1008.07" r="4" fill="none" stroke="#e0186c" stroke-width="1.5"/>
<circle cx="360.58" cy="1021.52" r="4" fill="none" stroke="#e0186c" stroke-width="1.5"/>
<circle cx="379.80" cy="1026.12" r="4" fill="none" stroke="#e0186c" stroke-width="1.5"/>
<circle cx="399.02" cy="1021.52" r="4" fill="none" stroke="#e0186c" stroke-width="1.5"/>
<circle cx="418.24" cy="1019.53" r="4" fill="none" stroke="#e0186c" stroke-width="1.5"/>
<circle cx="437.46" cy="1027.77" r="4" fill="none" stroke="#e0186c" stroke-width="1.5"/>
<circle cx="456.68" cy="1032.20" r="4" fill="none" stroke="#e0186c" stroke-width="1.5"/>
<circle cx="475.90" cy="1037.58" r="4" fill="none" stroke="#e0186c" stroke-width="1.5"/>
<circle cx="495.12" cy="1040.01" r="4" fill="none" stroke="#e0186c" stroke-width="1.5"/>
<circle cx="514.34" cy="1041.65" r="4" fill="none" stroke="#e0186c" stroke-width="1.5"/>
<circle cx="533.56" cy="1048.51" r="4" fill="none" stroke="#e0186c" stroke-width="1.5"/>
<circle cx="552.78" cy="1055.10" r="4" fill="none" stroke="#e0186c" stroke-width="1.5"/>
<circle cx="572.00" cy="1057.71" r="4" fill="none" stroke="#e0186c" stroke-width="1.5"/>
<circle cx="591.22" cy="1059.70" r="4" fill="none" stroke="#e0186c" stroke-width="1.5"/>
<circle cx="610.44" cy="1061.35" r="4" fill="none" stroke="#e0186c" stroke-width="1.5"/>
<circle cx="629.66" cy="1058.40" r="4" fill="none" stroke="#e0186c" stroke-width="1.5"/>
<circle cx="648.88" cy="1050.16" r="4" fill="none" stroke="#e0186c" stroke-width="1.5"/>
<circle cx="283.70" cy="1024.13" r="4" fill="none" stroke="#22837f" stroke-width="1.5"/>
<circle cx="302.92" cy="1045.39" r="4" fill="none" stroke="#22837f" stroke-width="1.5"/>
<circle cx="322.14" cy="1057.71" r="4" fill="none" stroke="#22837f" stroke-width="1.5"/>
<circle cx="341.36" cy="1067.08" r="4" fill="none" stroke="#22837f" stroke-width="1.5"/>
<circle cx="360.58" cy="1074.37" r="4" fill="none" stroke="#22837f" stroke-width="1.5"/>
<circle cx="379.80" cy="1076.54" r="4" fill="none" stroke="#22837f" stroke-width="1.5"/>
<circle cx="399.02" cy="1076.88" r="4" fill="none" stroke="#22837f" stroke-width="1.5"/>
<circle cx="418.24" cy="1076.88" r="4" fill="none" stroke="#22837f" stroke-width="1.5"/>
<circle cx="437.46" cy="1077.23" r="4" fill="none" stroke="#22837f" stroke-width="1.5"/>
<circle cx="456.68" cy="1079.66" r="4" fill="none" stroke="#22837f" stroke-width="1.5"/>
<circle cx="475.90" cy="1080.96" r="4" fill="none" stroke="#22837f" stroke-width="1.5"/>
<circle cx="495.12" cy="1080.09" r="4" fill="none" stroke="#22837f" stroke-width="1.5"/>
<circle cx="514.34" cy="1081.74" r="4" fill="none" stroke="#22837f" stroke-width="1.5"/>
<circle cx="533.56" cy="1083.91" r="4" fill="none" stroke="#22837f" stroke-width="1.5"/>
<circle cx="552.78" cy="1085.56" r="4" fill="none" stroke="#22837f" stroke-width="1.5"/>
<circle cx="572.00" cy="1085.91" r="4" fill="none" stroke="#22837f" stroke-width="1.5"/>
<circle cx="591.22" cy="1086.69" r="4" fill="none" stroke="#22837f" stroke-width="1.5"/>
<circle cx="610.44" cy="1085.56" r="4" fill="none" stroke="#22837f" stroke-width="1.5"/>
<circle cx="629.66" cy="1085.04" r="4" fill="none" stroke="#22837f" stroke-width="1.5"/>
<circle cx="648.88" cy="1083.74" r="4" fill="none" stroke="#22837f" stroke-width="1.5"/>
<path d="M279.50,1064.01L287.90,1072.41M279.50,1072.41L287.90,1064.01" stroke="#111" stroke-width="1.5"/>
<path d="M298.72,1065.83L307.12,1074.23M298.72,1074.23L307.12,1065.83" stroke="#111" stroke-width="1.5"/>
<path d="M317.94,1064.01L326.34,1072.41M317.94,1072.41L326.34,1064.01" stroke="#111" stroke-width="1.5"/>
<path d="M337.16,1067.74L345.56,1076.14M337.16,1076.14L345.56,1067.74" stroke="#111" stroke-width="1.5"/>
<path d="M356.38,1076.76L364.78,1085.16M356.38,1085.16L364.78,1076.76" stroke="#111" stroke-width="1.5"/>
<path d="M375.60,1081.36L384.00,1089.76M375.60,1089.76L384.00,1081.36" stroke="#111" stroke-width="1.5"/>
<path d="M394.82,1086.22L403.22,1094.62M394.82,1094.62L403.22,1086.22" stroke="#111" stroke-width="1.5"/>
<path d="M414.04,1090.38L422.44,1098.78M414.04,1098.78L422.44,1090.38" stroke="#111" stroke-width="1.5"/>
<path d="M433.26,1093.94L441.66,1102.34M433.26,1102.34L441.66,1093.94" stroke="#111" stroke-width="1.5"/>
<path d="M452.48,1096.89L460.88,1105.29M452.48,1105.29L460.88,1096.89" stroke="#111" stroke-width="1.5"/>
<path d="M471.70,1099.32L480.10,1107.72M471.70,1107.72L480.10,1099.32" stroke="#111" stroke-width="1.5"/>
<path d="M490.92,1100.54L499.32,1108.94M490.92,1108.94L499.32,1100.54" stroke="#111" stroke-width="1.5"/>
<path d="M510.14,1101.32L518.54,1109.72M510.14,1109.72L518.54,1101.32" stroke="#111" stroke-width="1.5"/>
<path d="M529.36,1101.84L537.76,1110.24M529.36,1110.24L537.76,1101.84" stroke="#111" stroke-width="1.5"/>
<path d="M548.58,1102.10L556.98,1110.50M548.58,1110.50L556.98,1102.10" stroke="#111" stroke-width="1.5"/>
<path d="M567.80,1101.84L576.20,1110.24M567.80,1110.24L576.20,1101.84" stroke="#111" stroke-width="1.5"/>
<path d="M587.02,1100.80L595.42,1109.20M587.02,1109.20L595.42,1100.80" stroke="#111" stroke-width="1.5"/>
<path d="M606.24,1100.02L614.64,1108.42M606.24,1108.42L614.64,1100.02" stroke="#111" stroke-width="1.5"/>
<path d="M625.46,1097.67L633.86,1106.07M625.46,1106.07L633.86,1097.67" stroke="#111" stroke-width="1.5"/>
<path d="M644.68,1096.72L653.08,1105.12M644.68,1105.12L653.08,1096.72" stroke="#111" stroke-width="1.5"/>
<path d="M279.50,1028.43L287.90,1036.83M279.50,1036.83L287.90,1028.43" stroke="#e0186c" stroke-width="1.5"/>
<path d="M298.72,1015.85L307.12,1024.25M298.72,1024.25L307.12,1015.85" stroke="#e0186c" stroke-width="1.5"/>
<path d="M317.94,1001.10L326.34,1009.50M317.94,1009.50L326.34,1001.10" stroke="#e0186c" stroke-width="1.5"/>
<path d="M337.16,984.26L345.56,992.66M337.16,992.66L345.56,984.26" stroke="#e0186c" stroke-width="1.5"/>
<path d="M356.38,988.34L364.78,996.74M356.38,996.74L364.78,988.34" stroke="#e0186c" stroke-width="1.5"/>
<path d="M375.60,988.00L384.00,996.40M375.60,996.40L384.00,988.00" stroke="#e0186c" stroke-width="1.5"/>
<path d="M394.82,982.10L403.22,990.50M394.82,990.50L403.22,982.10" stroke="#e0186c" stroke-width="1.5"/>
<path d="M414.04,988.00L422.44,996.40M414.04,996.40L422.44,988.00" stroke="#e0186c" stroke-width="1.5"/>
<path d="M433.26,972.81L441.66,981.21M433.26,981.21L441.66,972.81" stroke="#e0186c" stroke-width="1.5"/>
<path d="M452.48,951.81L460.88,960.21M452.48,960.21L460.88,951.81" stroke="#e0186c" stroke-width="1.5"/>
<path d="M471.70,914.33L480.10,922.73M471.70,922.73L480.10,914.33" stroke="#e0186c" stroke-width="1.5"/>
<path d="M490.92,899.14L499.32,907.54M490.92,907.54L499.32,899.14" stroke="#e0186c" stroke-width="1.5"/>
<path d="M510.14,919.62L518.54,928.02M510.14,928.02L518.54,919.62" stroke="#e0186c" stroke-width="1.5"/>
<path d="M529.36,949.38L537.76,957.78M529.36,957.78L537.76,949.38" stroke="#e0186c" stroke-width="1.5"/>
<path d="M548.58,948.25L556.98,956.65M548.58,956.65L556.98,948.25" stroke="#e0186c" stroke-width="1.5"/>
<path d="M567.80,944.61L576.20,953.01M567.80,953.01L576.20,944.61" stroke="#e0186c" stroke-width="1.5"/>
<path d="M587.02,923.70L595.42,932.10M587.02,932.10L595.42,923.70" stroke="#e0186c" stroke-width="1.5"/>
<path d="M606.24,960.49L614.64,968.89M606.24,968.89L614.64,960.49" stroke="#e0186c" stroke-width="1.5"/>
<path d="M625.46,971.16L633.86,979.56M625.46,979.56L633.86,971.16" stroke="#e0186c" stroke-width="1.5"/>
<path d="M644.68,967.87L653.08,976.27M644.68,976.27L653.08,967.87" stroke="#e0186c" stroke-width="1.5"/>
<path d="M279.50,1030.60L287.90,1039.00M279.50,1039.00L287.90,1030.60" stroke="#22837f" stroke-width="1.5"/>
<path d="M298.72,1035.46L307.12,1043.86M298.72,1043.86L307.12,1035.46" stroke="#22837f" stroke-width="1.5"/>
<path d="M317.94,1029.30L326.34,1037.70M317.94,1037.70L326.34,1029.30" stroke="#22837f" stroke-width="1.5"/>
<path d="M337.16,1023.05L345.56,1031.45M337.16,1031.45L345.56,1023.05" stroke="#22837f" stroke-width="1.5"/>
<path d="M356.38,1027.65L364.78,1036.05M356.38,1036.05L364.78,1027.65" stroke="#22837f" stroke-width="1.5"/>
<path d="M375.60,1035.81L384.00,1044.21M375.60,1044.21L384.00,1035.81" stroke="#22837f" stroke-width="1.5"/>
<path d="M394.82,1036.67L403.22,1045.07M394.82,1045.07L403.22,1036.67" stroke="#22837f" stroke-width="1.5"/>
<path d="M414.04,1030.08L422.44,1038.48M414.04,1038.48L422.44,1030.08" stroke="#22837f" stroke-width="1.5"/>
<path d="M433.26,1028.95L441.66,1037.35M433.26,1037.35L441.66,1028.95" stroke="#22837f" stroke-width="1.5"/>
<path d="M452.48,1038.76L460.88,1047.16M452.48,1047.16L460.88,1038.76" stroke="#22837f" stroke-width="1.5"/>
<path d="M471.70,1044.05L480.10,1052.45M471.70,1052.45L480.10,1044.05" stroke="#22837f" stroke-width="1.5"/>
<path d="M490.92,1042.05L499.32,1050.45M490.92,1050.45L499.32,1042.05" stroke="#22837f" stroke-width="1.5"/>
<path d="M510.14,1045.61L518.54,1054.01M510.14,1054.01L518.54,1045.61" stroke="#22837f" stroke-width="1.5"/>
<path d="M529.36,1054.20L537.76,1062.60M529.36,1062.60L537.76,1054.20" stroke="#22837f" stroke-width="1.5"/>
<path d="M548.58,1058.45L556.98,1066.85M548.58,1066.85L556.98,1058.45" stroke="#22837f" stroke-width="1.5"/>
<path d="M567.80,1057.93L576.20,1066.33M567.80,1066.33L576.20,1057.93" stroke="#22837f" stroke-width="1.5"/>
<path d="M587.02,1055.50L595.42,1063.90M587.02,1063.90L595.42,1055.50" stroke="#22837f" stroke-width="1.5"/>
<path d="M606.24,1054.64L614.64,1063.04M606.24,1063.04L614.64,1054.64" stroke="#22837f" stroke-width="1.5"/>
<path d="M625.46,1049.78L633.86,1058.18M625.46,1058.18L633.86,1049.78" stroke="#22837f" stroke-width="1.5"/>
<path d="M644.68,1053.33L653.08,1061.73M644.68,1061.73L653.08,1053.33" stroke="#22837f" stroke-width="1.5"/>
<path d="M797.7,873.5V1135.0M786.9,1135.0H1190" stroke="#000" stroke-width="3" fill="none"/>
<path d="M787.2,875.00H797.7" stroke="#000" stroke-width="3"/>
<text x="783.2" y="881.80" font-size="19.5" font-weight="bold" text-anchor="end" fill="#000" >4000</text>
<path d="M787.2,940.00H797.7" stroke="#000" stroke-width="3"/>
<text x="783.2" y="946.80" font-size="19.5" font-weight="bold" text-anchor="end" fill="#000" >3000</text>
<path d="M787.2,1005.00H797.7" stroke="#000" stroke-width="3"/>
<text x="783.2" y="1011.80" font-size="19.5" font-weight="bold" text-anchor="end" fill="#000" >2000</text>
<path d="M787.2,1070.00H797.7" stroke="#000" stroke-width="3"/>
<text x="783.2" y="1076.80" font-size="19.5" font-weight="bold" text-anchor="end" fill="#000" >1000</text>
<path d="M787.2,1135.00H797.7" stroke="#000" stroke-width="3"/>
<text x="783.2" y="1141.80" font-size="19.5" font-weight="bold" text-anchor="end" fill="#000" >0</text>
<path d="M810.60,1135.0V1149.0" stroke="#000" stroke-width="3"/>
<text x="810.60" y="1172.5" font-size="19" font-weight="bold" text-anchor="middle" fill="#000" >1</text>
<path d="M887.40,1135.0V1149.0" stroke="#000" stroke-width="3"/>
<text x="887.40" y="1172.5" font-size="19" font-weight="bold" text-anchor="middle" fill="#000" >5</text>
<path d="M983.40,1135.0V1149.0" stroke="#000" stroke-width="3"/>
<text x="983.40" y="1172.5" font-size="19" font-weight="bold" text-anchor="middle" fill="#000" >10</text>
<path d="M1079.40,1135.0V1149.0" stroke="#000" stroke-width="3"/>
<text x="1079.40" y="1172.5" font-size="19" font-weight="bold" text-anchor="middle" fill="#000" >15</text>
<path d="M1175.40,1135.0V1149.0" stroke="#000" stroke-width="3"/>
<text x="1175.40" y="1172.5" font-size="19" font-weight="bold" text-anchor="middle" fill="#000" >20</text>
<circle cx="810.60" cy="934.22" r="4" fill="none" stroke="#111" stroke-width="1.5"/>
<circle cx="829.80" cy="935.51" r="4" fill="none" stroke="#111" stroke-width="1.5"/>
<circle cx="849.00" cy="953.85" r="4" fill="none" stroke="#111" stroke-width="1.5"/>
<circle cx="868.20" cy="945.00" r="4" fill="none" stroke="#111" stroke-width="1.5"/>
<circle cx="887.40" cy="985.89" r="4" fill="none" stroke="#111" stroke-width="1.5"/>
<circle cx="906.60" cy="995.70" r="4" fill="none" stroke="#111" stroke-width="1.5"/>
<circle cx="925.80" cy="1023.78" r="4" fill="none" stroke="#111" stroke-width="1.5"/>
<circle cx="945.00" cy="1030.35" r="4" fill="none" stroke="#111" stroke-width="1.5"/>
<circle cx="964.20" cy="1027.88" r="4" fill="none" stroke="#111" stroke-width="1.5"/>
<circle cx="983.40" cy="1040.16" r="4" fill="none" stroke="#111" stroke-width="1.5"/>
<circle cx="1002.60" cy="1042.12" r="4" fill="none" stroke="#111" stroke-width="1.5"/>
<circle cx="1021.80" cy="1045.04" r="4" fill="none" stroke="#111" stroke-width="1.5"/>
<circle cx="1041.00" cy="1044.26" r="4" fill="none" stroke="#111" stroke-width="1.5"/>
<circle cx="1060.20" cy="1051.61" r="4" fill="none" stroke="#111" stroke-width="1.5"/>
<circle cx="1079.40" cy="1057.33" r="4" fill="none" stroke="#111" stroke-width="1.5"/>
<circle cx="1098.60" cy="1056.48" r="4" fill="none" stroke="#111" stroke-width="1.5"/>
<circle cx="1117.80" cy="1053.23" r="4" fill="none" stroke="#111" stroke-width="1.5"/>
<circle cx="1137.00" cy="1054.08" r="4" fill="none" stroke="#111" stroke-width="1.5"/>
<circle cx="1156.20" cy="1057.33" r="4" fill="none" stroke="#111" stroke-width="1.5"/>
<circle cx="1175.40" cy="1054.86" r="4" fill="none" stroke="#111" stroke-width="1.5"/>
<circle cx="810.60" cy="1036.91" r="4" fill="none" stroke="#e0186c" stroke-width="1.5"/>
<circle cx="829.80" cy="1023.00" r="4" fill="none" stroke="#e0186c" stroke-width="1.5"/>
<circle cx="849.00" cy="1038.21" r="4" fill="none" stroke="#e0186c" stroke-width="1.5"/>
<circle cx="868.20" cy="1061.10" r="4" fill="none" stroke="#e0186c" stroke-width="1.5"/>
<circle cx="887.40" cy="1061.10" r="4" fill="none" stroke="#e0186c" stroke-width="1.5"/>
<circle cx="906.60" cy="1060.58" r="4" fill="none" stroke="#e0186c" stroke-width="1.5"/>
<circle cx="925.80" cy="1061.10" r="4" fill="none" stroke="#e0186c" stroke-width="1.5"/>
<circle cx="945.00" cy="1064.67" r="4" fill="none" stroke="#e0186c" stroke-width="1.5"/>
<circle cx="964.20" cy="1063.37" r="4" fill="none" stroke="#e0186c" stroke-width="1.5"/>
<circle cx="983.40" cy="1064.35" r="4" fill="none" stroke="#e0186c" stroke-width="1.5"/>
<circle cx="1002.60" cy="1063.89" r="4" fill="none" stroke="#e0186c" stroke-width="1.5"/>
<circle cx="1021.80" cy="1060.58" r="4" fill="none" stroke="#e0186c" stroke-width="1.5"/>
<circle cx="1041.00" cy="1061.42" r="4" fill="none" stroke="#e0186c" stroke-width="1.5"/>
<circle cx="1060.20" cy="1063.57" r="4" fill="none" stroke="#e0186c" stroke-width="1.5"/>
<circle cx="1079.40" cy="1064.67" r="4" fill="none" stroke="#e0186c" stroke-width="1.5"/>
<circle cx="1098.60" cy="1073.18" r="4" fill="none" stroke="#e0186c" stroke-width="1.5"/>
<circle cx="1117.80" cy="1079.42" r="4" fill="none" stroke="#e0186c" stroke-width="1.5"/>
<circle cx="1137.00" cy="1083.00" r="4" fill="none" stroke="#e0186c" stroke-width="1.5"/>
<circle cx="1156.20" cy="1086.77" r="4" fill="none" stroke="#e0186c" stroke-width="1.5"/>
<circle cx="1175.40" cy="1089.24" r="4" fill="none" stroke="#e0186c" stroke-width="1.5"/>
<circle cx="810.60" cy="1042.63" r="4" fill="none" stroke="#22837f" stroke-width="1.5"/>
<circle cx="829.80" cy="1043.74" r="4" fill="none" stroke="#22837f" stroke-width="1.5"/>
<circle cx="849.00" cy="1047.51" r="4" fill="none" stroke="#22837f" stroke-width="1.5"/>
<circle cx="868.20" cy="1045.04" r="4" fill="none" stroke="#22837f" stroke-width="1.5"/>
<circle cx="887.40" cy="1045.04" r="4" fill="none" stroke="#22837f" stroke-width="1.5"/>
<circle cx="906.60" cy="1040.94" r="4" fill="none" stroke="#22837f" stroke-width="1.5"/>
<circle cx="925.80" cy="1035.55" r="4" fill="none" stroke="#22837f" stroke-width="1.5"/>
<circle cx="945.00" cy="1031.97" r="4" fill="none" stroke="#22837f" stroke-width="1.5"/>
<circle cx="964.20" cy="1029.70" r="4" fill="none" stroke="#22837f" stroke-width="1.5"/>
<circle cx="983.40" cy="1036.07" r="4" fill="none" stroke="#22837f" stroke-width="1.5"/>
<circle cx="1002.60" cy="1051.28" r="4" fill="none" stroke="#22837f" stroke-width="1.5"/>
<circle cx="1021.80" cy="1067.14" r="4" fill="none" stroke="#22837f" stroke-width="1.5"/>
<circle cx="1041.00" cy="1078.58" r="4" fill="none" stroke="#22837f" stroke-width="1.5"/>
<circle cx="1060.20" cy="1087.55" r="4" fill="none" stroke="#22837f" stroke-width="1.5"/>
<circle cx="1079.40" cy="1099.06" r="4" fill="none" stroke="#22837f" stroke-width="1.5"/>
<circle cx="1098.60" cy="1102.31" r="4" fill="none" stroke="#22837f" stroke-width="1.5"/>
<circle cx="1117.80" cy="1105.56" r="4" fill="none" stroke="#22837f" stroke-width="1.5"/>
<circle cx="1137.00" cy="1107.18" r="4" fill="none" stroke="#22837f" stroke-width="1.5"/>
<circle cx="1156.20" cy="1109.65" r="4" fill="none" stroke="#22837f" stroke-width="1.5"/>
<circle cx="1175.40" cy="1112.12" r="4" fill="none" stroke="#22837f" stroke-width="1.5"/>
<path d="M806.40,1046.11L814.80,1054.51M806.40,1054.51L814.80,1046.11" stroke="#111" stroke-width="1.5"/>
<path d="M825.60,1055.92L834.00,1064.32M825.60,1064.32L834.00,1055.92" stroke="#111" stroke-width="1.5"/>
<path d="M844.80,1061.77L853.20,1070.17M844.80,1070.17L853.20,1061.77" stroke="#111" stroke-width="1.5"/>
<path d="M864.00,1064.57L872.40,1072.97M864.00,1072.97L872.40,1064.57" stroke="#111" stroke-width="1.5"/>
<path d="M883.20,1068.66L891.60,1077.06M883.20,1077.06L891.60,1068.66" stroke="#111" stroke-width="1.5"/>
<path d="M902.40,1069.50L910.80,1077.90M902.40,1077.90L910.80,1069.50" stroke="#111" stroke-width="1.5"/>
<path d="M921.60,1075.55L930.00,1083.95M921.60,1083.95L930.00,1075.55" stroke="#111" stroke-width="1.5"/>
<path d="M940.80,1077.63L949.20,1086.03M940.80,1086.03L949.20,1077.63" stroke="#111" stroke-width="1.5"/>
<path d="M960.00,1080.10L968.40,1088.50M960.00,1088.50L968.40,1080.10" stroke="#111" stroke-width="1.5"/>
<path d="M979.20,1080.42L987.60,1088.83M979.20,1088.83L987.60,1080.42" stroke="#111" stroke-width="1.5"/>
<path d="M998.40,1082.57L1006.80,1090.97M998.40,1090.97L1006.80,1082.57" stroke="#111" stroke-width="1.5"/>
<path d="M1017.60,1081.40L1026.00,1089.80M1017.60,1089.80L1026.00,1081.40" stroke="#111" stroke-width="1.5"/>
<path d="M1036.80,1081.72L1045.20,1090.12M1036.80,1090.12L1045.20,1081.72" stroke="#111" stroke-width="1.5"/>
<path d="M1056.00,1082.57L1064.40,1090.97M1056.00,1090.97L1064.40,1082.57" stroke="#111" stroke-width="1.5"/>
<path d="M1075.20,1082.57L1083.60,1090.97M1075.20,1090.97L1083.60,1082.57" stroke="#111" stroke-width="1.5"/>
<path d="M1094.40,1081.72L1102.80,1090.12M1094.40,1090.12L1102.80,1081.72" stroke="#111" stroke-width="1.5"/>
<path d="M1113.60,1083.35L1122.00,1091.75M1113.60,1091.75L1122.00,1083.35" stroke="#111" stroke-width="1.5"/>
<path d="M1132.80,1081.72L1141.20,1090.12M1132.80,1090.12L1141.20,1081.72" stroke="#111" stroke-width="1.5"/>
<path d="M1152.00,1082.57L1160.40,1090.97M1152.00,1090.97L1160.40,1082.57" stroke="#111" stroke-width="1.5"/>
<path d="M1171.20,1080.94L1179.60,1089.35M1171.20,1089.35L1179.60,1080.94" stroke="#111" stroke-width="1.5"/>
<path d="M806.40,1063.46L814.80,1071.86M806.40,1071.86L814.80,1063.46" stroke="#e0186c" stroke-width="1.5"/>
<path d="M825.60,1061.77L834.00,1070.17M825.60,1070.17L834.00,1061.77" stroke="#e0186c" stroke-width="1.5"/>
<path d="M844.80,1062.55L853.20,1070.95M844.80,1070.95L853.20,1062.55" stroke="#e0186c" stroke-width="1.5"/>
<path d="M864.00,1064.57L872.40,1072.97M864.00,1072.97L872.40,1064.57" stroke="#e0186c" stroke-width="1.5"/>
<path d="M883.20,1061.77L891.60,1070.17M883.20,1070.17L891.60,1061.77" stroke="#e0186c" stroke-width="1.5"/>
<path d="M902.40,1064.57L910.80,1072.97M902.40,1072.97L910.80,1064.57" stroke="#e0186c" stroke-width="1.5"/>
<path d="M921.60,1062.42L930.00,1070.82M921.60,1070.82L930.00,1062.42" stroke="#e0186c" stroke-width="1.5"/>
<path d="M940.80,1067.82L949.20,1076.22M940.80,1076.22L949.20,1067.82" stroke="#e0186c" stroke-width="1.5"/>
<path d="M960.00,1070.28L968.40,1078.68M960.00,1078.68L968.40,1070.28" stroke="#e0186c" stroke-width="1.5"/>
<path d="M979.20,1074.90L987.60,1083.30M979.20,1083.30L987.60,1074.90" stroke="#e0186c" stroke-width="1.5"/>
<path d="M998.40,1075.22L1006.80,1083.62M998.40,1083.62L1006.80,1075.22" stroke="#e0186c" stroke-width="1.5"/>
<path d="M1017.60,1080.10L1026.00,1088.50M1017.60,1088.50L1026.00,1080.10" stroke="#e0186c" stroke-width="1.5"/>
<path d="M1036.80,1080.94L1045.20,1089.35M1036.80,1089.35L1045.20,1080.94" stroke="#e0186c" stroke-width="1.5"/>
<path d="M1056.00,1081.40L1064.40,1089.80M1056.00,1089.80L1064.40,1081.40" stroke="#e0186c" stroke-width="1.5"/>
<path d="M1075.20,1082.57L1083.60,1090.97M1075.20,1090.97L1083.60,1082.57" stroke="#e0186c" stroke-width="1.5"/>
<path d="M1094.40,1079.32L1102.80,1087.72M1094.40,1087.72L1102.80,1079.32" stroke="#e0186c" stroke-width="1.5"/>
<path d="M1113.60,1077.63L1122.00,1086.03M1113.60,1086.03L1122.00,1077.63" stroke="#e0186c" stroke-width="1.5"/>
<path d="M1132.80,1080.94L1141.20,1089.35M1132.80,1089.35L1141.20,1080.94" stroke="#e0186c" stroke-width="1.5"/>
<path d="M1152.00,1082.57L1160.40,1090.97M1152.00,1090.97L1160.40,1082.57" stroke="#e0186c" stroke-width="1.5"/>
<path d="M1171.20,1101.36L1179.60,1109.76M1171.20,1109.76L1179.60,1101.36" stroke="#e0186c" stroke-width="1.5"/>
<path d="M806.40,1049.88L814.80,1058.28M806.40,1058.28L814.80,1049.88" stroke="#22837f" stroke-width="1.5"/>
<path d="M825.60,1059.30L834.00,1067.70M825.60,1067.70L834.00,1059.30" stroke="#22837f" stroke-width="1.5"/>
<path d="M844.80,1068.66L853.20,1077.06M844.80,1077.06L853.20,1068.66" stroke="#22837f" stroke-width="1.5"/>
<path d="M864.00,1074.38L872.40,1082.78M864.00,1082.78L872.40,1074.38" stroke="#22837f" stroke-width="1.5"/>
<path d="M883.20,1082.57L891.60,1090.97M883.20,1090.97L891.60,1082.57" stroke="#22837f" stroke-width="1.5"/>
<path d="M902.40,1086.66L910.80,1095.07M902.40,1095.07L910.80,1086.66" stroke="#22837f" stroke-width="1.5"/>
<path d="M921.60,1089.91L930.00,1098.32M921.60,1098.32L930.00,1089.91" stroke="#22837f" stroke-width="1.5"/>
<path d="M940.80,1090.24L949.20,1098.64M940.80,1098.64L949.20,1090.24" stroke="#22837f" stroke-width="1.5"/>
<path d="M960.00,1092.84L968.40,1101.24M960.00,1101.24L968.40,1092.84" stroke="#22837f" stroke-width="1.5"/>
<path d="M979.20,1092.38L987.60,1100.79M979.20,1100.79L987.60,1092.38" stroke="#22837f" stroke-width="1.5"/>
<path d="M998.40,1092.38L1006.80,1100.79M998.40,1100.79L1006.80,1092.38" stroke="#22837f" stroke-width="1.5"/>
<path d="M1017.60,1093.16L1026.00,1101.57M1017.60,1101.57L1026.00,1093.16" stroke="#22837f" stroke-width="1.5"/>
<path d="M1036.80,1096.48L1045.20,1104.88M1036.80,1104.88L1045.20,1096.48" stroke="#22837f" stroke-width="1.5"/>
<path d="M1056.00,1098.43L1064.40,1106.83M1056.00,1106.83L1064.40,1098.43" stroke="#22837f" stroke-width="1.5"/>
<path d="M1075.20,1098.88L1083.60,1107.29M1075.20,1107.29L1083.60,1098.88" stroke="#22837f" stroke-width="1.5"/>
<path d="M1094.40,1098.88L1102.80,1107.29M1094.40,1107.29L1102.80,1098.88" stroke="#22837f" stroke-width="1.5"/>
<path d="M1113.60,1101.36L1122.00,1109.76M1113.60,1109.76L1122.00,1101.36" stroke="#22837f" stroke-width="1.5"/>
<path d="M1132.80,1102.65L1141.20,1111.06M1132.80,1111.06L1141.20,1102.65" stroke="#22837f" stroke-width="1.5"/>
<path d="M1152.00,1102.65L1160.40,1111.06M1152.00,1111.06L1160.40,1102.65" stroke="#22837f" stroke-width="1.5"/>
<path d="M1171.20,1101.36L1179.60,1109.76M1171.20,1109.76L1179.60,1101.36" stroke="#22837f" stroke-width="1.5"/>
<text x="172" y="840.2" font-size="24" font-weight="bold" text-anchor="start" fill="#000" >B</text>
<text x="466.8" y="840.8" font-size="25" font-weight="bold" text-anchor="middle" fill="#000" >PV</text>
<text x="993" y="840.8" font-size="25" font-weight="bold" text-anchor="middle" fill="#000" >PA</text>
<text transform="translate(198,1073.5) rotate(-90)" font-size="22" font-weight="bold" text-anchor="start" textLength="135.5" lengthAdjust="spacingAndGlyphs">Vorticity (1/s)</text>
<text transform="translate(724,1073.5) rotate(-90)" font-size="22" font-weight="bold" text-anchor="start" textLength="135.5" lengthAdjust="spacingAndGlyphs">Vorticity (1/s)</text>
<text x="463.5" y="1196.9" font-size="21" font-weight="bold" text-anchor="middle" fill="#000" >mm</text>
<text x="990" y="1196.9" font-size="21" font-weight="bold" text-anchor="middle" fill="#000" >mm</text>
<ellipse cx="260.1" cy="1230.1" rx="5.6" ry="6.2" fill="none" stroke="#111" stroke-width="1.7"/>
<text x="273.2" y="1236.3" font-size="18.6" font-weight="normal" text-anchor="start" fill="#000" >No-intervention, 1 Day</text>
<ellipse cx="553.9" cy="1230.1" rx="5.6" ry="6.2" fill="none" stroke="#e0186c" stroke-width="1.7"/>
<text x="566.6" y="1236.3" font-size="18.6" font-weight="normal" text-anchor="start" fill="#000" >No-intervention, 6 Weeks</text>
<ellipse cx="874.6" cy="1230.1" rx="5.6" ry="6.2" fill="none" stroke="#22837f" stroke-width="1.7"/>
<text x="887.4" y="1236.3" font-size="18.6" font-weight="normal" text-anchor="start" fill="#000" >No-intervention, 6 Months</text>
<path d="M231.7,1259.6999999999998L242.5,1273.5M231.7,1273.5L242.5,1259.6999999999998" stroke="#111" stroke-width="1.6"/>
<text x="248.4" y="1273.9" font-size="18.6" font-weight="normal" text-anchor="start" fill="#000" >Required intervention, 1 Day</text>
<path d="M524.8000000000001,1259.6999999999998L535.6,1273.5M524.8000000000001,1273.5L535.6,1259.6999999999998" stroke="#e0186c" stroke-width="1.6"/>
<text x="542.2" y="1273.9" font-size="18.6" font-weight="normal" text-anchor="start" fill="#000" >Required intervention, 6 Weeks</text>
<path d="M846.6,1259.6999999999998L857.4,1273.5M846.6,1273.5L857.4,1259.6999999999998" stroke="#22837f" stroke-width="1.6"/>
<text x="863.7" y="1273.9" font-size="18.6" font-weight="normal" text-anchor="start" fill="#000" >Required intervention, 6 Months</text>
<path d="M330.5,1410.6V1688.8M318.7,1688.8H608" stroke="#000" stroke-width="3" fill="none"/>
<path d="M318.7,1412.11H330.5" stroke="#000" stroke-width="3"/>
<text x="314.5" y="1419.31" font-size="20" font-weight="bold" text-anchor="end" fill="#000" >6000</text>
<path d="M318.7,1504.34H330.5" stroke="#000" stroke-width="3"/>
<text x="314.5" y="1511.54" font-size="20" font-weight="bold" text-anchor="end" fill="#000" >4000</text>
<path d="M318.7,1596.57H330.5" stroke="#000" stroke-width="3"/>
<text x="314.5" y="1603.77" font-size="20" font-weight="bold" text-anchor="end" fill="#000" >2000</text>
<path d="M318.7,1688.80H330.5" stroke="#000" stroke-width="3"/>
<text x="314.5" y="1696.00" font-size="20" font-weight="bold" text-anchor="end" fill="#000" >0</text>
<path d="M356.70,1492.30V1549.99M356.70,1654.40V1660.99M350.35,1492.30H363.05M350.35,1660.99H363.05" stroke="#000" stroke-width="3.3" fill="none"/>
<rect x="345.50" y="1549.99" width="22.4" height="104.40" fill="#7f7f7f" stroke="#000" stroke-width="3.3"/>
<path d="M345.50,1650.89H367.90" stroke="#000" stroke-width="3.3"/>
<path d="M395.80,1578.59V1617.78M395.80,1649.28V1661.68M389.45,1578.59H402.15M389.45,1661.68H402.15" stroke="#e0186c" stroke-width="3.3" fill="none"/>
<rect x="384.60" y="1617.78" width="22.4" height="31.50" fill="#f08ab4" stroke="#e0186c" stroke-width="3.3"/>
<path d="M384.60,1634.61H407.00" stroke="#e0186c" stroke-width="3.3"/>
<path d="M435.60,1610.77V1649.37M435.60,1664.36V1666.99M429.25,1610.77H441.95M429.25,1666.99H441.95" stroke="#22837f" stroke-width="3.3" fill="none"/>
<rect x="424.40" y="1649.37" width="22.4" height="14.99" fill="#8cc3c3" stroke="#22837f" stroke-width="3.3"/>
<path d="M424.40,1662.05H446.80" stroke="#22837f" stroke-width="3.3"/>
<path d="M501.40,1639.00V1661.68M501.40,1669.99V1679.39M495.05,1639.00H507.75M495.05,1679.39H507.75" stroke="#000" stroke-width="3.3" fill="none"/>
<rect x="490.20" y="1661.68" width="22.4" height="8.30" fill="url(#hatchG)" stroke="#000" stroke-width="3.3"/>
<path d="M490.20,1665.74H512.60" stroke="#000" stroke-width="3.3"/>
<path d="M540.50,1432.91V1591.73M540.50,1636.00V1662.70M534.15,1432.91H546.85M534.15,1662.70H546.85" stroke="#e0186c" stroke-width="3.3" fill="none"/>
<rect x="529.30" y="1591.73" width="22.4" height="44.27" fill="url(#hatchP)" stroke="#e0186c" stroke-width="3.3"/>
<path d="M529.30,1620.41H551.70" stroke="#e0186c" stroke-width="3.3"/>
<path d="M580.00,1571.48V1615.80M580.00,1661.13V1682.81M573.65,1571.48H586.35M573.65,1682.81H586.35" stroke="#22837f" stroke-width="3.3" fill="none"/>
<rect x="568.80" y="1615.80" width="22.4" height="45.33" fill="url(#hatchT)" stroke="#22837f" stroke-width="3.3"/>
<path d="M568.80,1652.09H591.20" stroke="#22837f" stroke-width="3.3"/>
<path d="M856.1,1411.3V1688.6M845,1688.6H1134" stroke="#000" stroke-width="3" fill="none"/>
<path d="M844.3000000000001,1413.00H856.1" stroke="#000" stroke-width="3"/>
<text x="840.1" y="1420.20" font-size="20" font-weight="bold" text-anchor="end" fill="#000" >8000</text>
<path d="M844.3000000000001,1481.90H856.1" stroke="#000" stroke-width="3"/>
<text x="840.1" y="1489.10" font-size="20" font-weight="bold" text-anchor="end" fill="#000" >6000</text>
<path d="M844.3000000000001,1550.80H856.1" stroke="#000" stroke-width="3"/>
<text x="840.1" y="1558.00" font-size="20" font-weight="bold" text-anchor="end" fill="#000" >4000</text>
<path d="M844.3000000000001,1619.70H856.1" stroke="#000" stroke-width="3"/>
<text x="840.1" y="1626.90" font-size="20" font-weight="bold" text-anchor="end" fill="#000" >2000</text>
<path d="M844.3000000000001,1688.60H856.1" stroke="#000" stroke-width="3"/>
<text x="840.1" y="1695.80" font-size="20" font-weight="bold" text-anchor="end" fill="#000" >0</text>
<path d="M882.40,1461.99V1583.77M882.40,1671.79V1685.71M876.05,1461.99H888.75M876.05,1685.71H888.75" stroke="#000" stroke-width="3.3" fill="none"/>
<rect x="871.20" y="1583.77" width="22.4" height="88.02" fill="#7f7f7f" stroke="#000" stroke-width="3.3"/>
<path d="M871.20,1661.21H893.60" stroke="#000" stroke-width="3.3"/>
<path d="M921.80,1576.60V1637.68M921.80,1673.89V1679.88M915.45,1576.60H928.15M915.45,1679.88H928.15" stroke="#e0186c" stroke-width="3.3" fill="none"/>
<rect x="910.60" y="1637.68" width="22.4" height="36.21" fill="#f08ab4" stroke="#e0186c" stroke-width="3.3"/>
<path d="M910.60,1653.60H933.00" stroke="#e0186c" stroke-width="3.3"/>
<path d="M961.20,1545.08V1649.19M961.20,1678.20V1687.81M954.85,1545.08H967.55M954.85,1687.81H967.55" stroke="#22837f" stroke-width="3.3" fill="none"/>
<rect x="950.00" y="1649.19" width="22.4" height="29.01" fill="#8cc3c3" stroke="#22837f" stroke-width="3.3"/>
<path d="M950.00,1670.20H972.40" stroke="#22837f" stroke-width="3.3"/>
<path d="M1026.80,1598.10V1650.81M1026.80,1668.00V1672.99M1020.45,1598.10H1033.15M1020.45,1672.99H1033.15" stroke="#000" stroke-width="3.3" fill="none"/>
<rect x="1015.60" y="1650.81" width="22.4" height="17.19" fill="url(#hatchG)" stroke="#000" stroke-width="3.3"/>
<path d="M1015.60,1667.24H1038.00" stroke="#000" stroke-width="3.3"/>
<path d="M1066.20,1631.52V1644.61M1066.20,1679.51V1685.09M1059.85,1631.52H1072.55M1059.85,1685.09H1072.55" stroke="#e0186c" stroke-width="3.3" fill="none"/>
<rect x="1055.00" y="1644.61" width="22.4" height="34.90" fill="url(#hatchP)" stroke="#e0186c" stroke-width="3.3"/>
<path d="M1055.00,1654.70H1077.40" stroke="#e0186c" stroke-width="3.3"/>
<path d="M1105.40,1637.51V1657.91M1105.40,1676.30V1683.19M1099.05,1637.51H1111.75M1099.05,1683.19H1111.75" stroke="#22837f" stroke-width="3.3" fill="none"/>
<rect x="1094.20" y="1657.91" width="22.4" height="18.40" fill="url(#hatchT)" stroke="#22837f" stroke-width="3.3"/>
<path d="M1094.20,1668.62H1116.60" stroke="#22837f" stroke-width="3.3"/>
<path d="M357,1457.5V1448.5H502V1457.5" stroke="#000" stroke-width="2.6" fill="none"/>
<path d="M430.50,1434.10L430.50,1443.30M426.52,1436.40L434.48,1441.00M426.52,1441.00L434.48,1436.40" stroke="#000" stroke-width="1.9" fill="none"/>
<path d="M357,1479.3V1470.3H436.5V1479.3" stroke="#000" stroke-width="2.6" fill="none"/>
<path d="M395.50,1457.40L395.50,1466.60M391.52,1459.70L399.48,1464.30M391.52,1464.30L399.48,1459.70" stroke="#000" stroke-width="1.9" fill="none"/>
<path d="M395,1571.8000000000002V1562.4H436.5V1571.8000000000002" stroke="#000" stroke-width="2.6" fill="none"/>
<path d="M416.30,1549.60L416.30,1558.80M412.32,1551.90L420.28,1556.50M412.32,1556.50L420.28,1551.90" stroke="#000" stroke-width="1.9" fill="none"/>
<path d="M501.4,1409.1V1399.8H581.5V1409.1" stroke="#000" stroke-width="2.6" fill="none"/>
<path d="M542.50,1386.30L542.50,1395.50M538.52,1388.60L546.48,1393.20M538.52,1393.20L546.48,1388.60" stroke="#000" stroke-width="1.9" fill="none"/>
<path d="M501.4,1429.2V1419.9H540.5V1429.2" stroke="#000" stroke-width="2.6" fill="none"/>
<path d="M520.50,1407.20L520.50,1416.40M516.52,1409.50L524.48,1414.10M516.52,1414.10L524.48,1409.50" stroke="#000" stroke-width="1.9" fill="none"/>
<path d="M540.5,1429.2V1419.9H579V1429.2" stroke="#000" stroke-width="2.6" fill="none"/>
<path d="M561.10,1406.80L561.10,1416.00M557.12,1409.10L565.08,1413.70M557.12,1413.70L565.08,1409.10" stroke="#000" stroke-width="1.9" fill="none"/>
<text x="172" y="1371.5" font-size="24" font-weight="bold" text-anchor="start" fill="#000" >C</text>
<text x="469.3" y="1375.7" font-size="27" font-weight="bold" text-anchor="middle" fill="#000" >PV</text>
<text x="993.5" y="1375.7" font-size="27" font-weight="bold" text-anchor="middle" fill="#000" >PA</text>
<text transform="translate(257,1622.5) rotate(-90)" font-size="22" font-weight="bold" text-anchor="start" textLength="143.3" lengthAdjust="spacingAndGlyphs">Vorticity (1/s)</text>
<text transform="translate(783,1622.5) rotate(-90)" font-size="22" font-weight="bold" text-anchor="start" textLength="143.3" lengthAdjust="spacingAndGlyphs">Vorticity (1/s)</text>
<text x="397.6" y="1710.9" font-size="16" font-weight="bold" text-anchor="middle" fill="#000" textLength="115.5" lengthAdjust="spacingAndGlyphs">No-intervention</text>
<text x="548.3" y="1710.9" font-size="16.2" font-weight="bold" text-anchor="middle" fill="#000" >Required</text>
<text x="547.9" y="1728.5" font-size="16.2" font-weight="bold" text-anchor="middle" fill="#000" >intervention</text>
<text x="923" y="1710.6" font-size="16" font-weight="bold" text-anchor="middle" fill="#000" textLength="115.9" lengthAdjust="spacingAndGlyphs">No-intervention</text>
<text x="1073.6" y="1710.6" font-size="16.2" font-weight="bold" text-anchor="middle" fill="#000" >Required</text>
<text x="1073.3" y="1729.7" font-size="16.2" font-weight="bold" text-anchor="middle" fill="#000" >intervention</text>
<text x="722.5" y="1741.8" font-size="17.7" font-weight="normal" text-anchor="middle" fill="#000" >Scan time</text>
<rect x="581" y="1752.6" width="18" height="15" fill="#808080" stroke="#333" stroke-width="1.4"/>
<text x="607.6" y="1765.1" font-size="17.5" font-weight="normal" text-anchor="start" fill="#000" >1 Day</text>
<rect x="668.3" y="1752.6" width="17.2" height="15" fill="#f27fb0" stroke="#c8306e" stroke-width="1.4"/>
<text x="694.0" y="1765.1" font-size="18" font-weight="normal" text-anchor="start" fill="#000" >6 Weeks</text>
<rect x="779.5" y="1752.6" width="18.4" height="15" fill="#87c0bf" stroke="#3a8c8a" stroke-width="1.4"/>
<text x="806.5" y="1765.1" font-size="17.8" font-weight="normal" text-anchor="start" fill="#000" >6 months</text>
</svg></body></html>
